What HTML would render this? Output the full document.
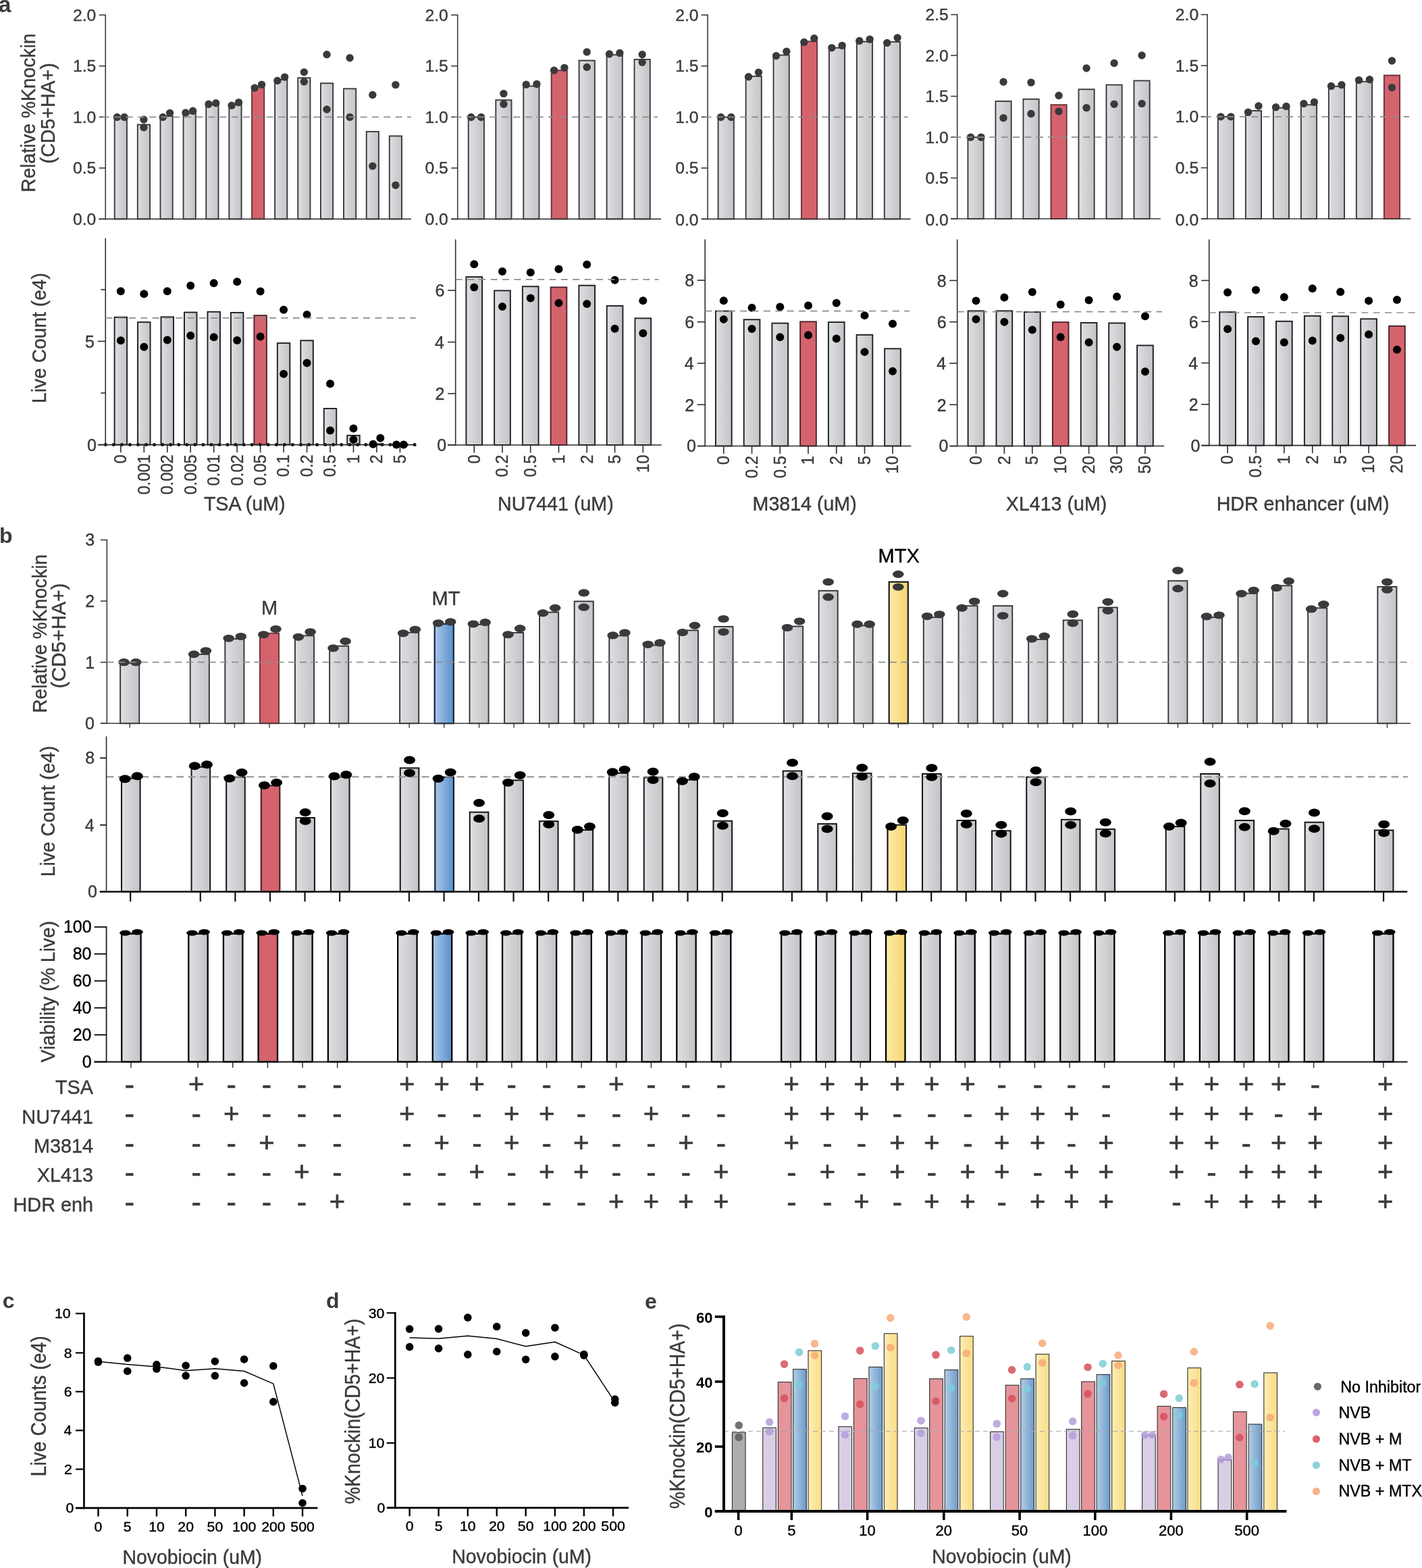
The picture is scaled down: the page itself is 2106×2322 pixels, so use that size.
<!DOCTYPE html>
<html lang="en">
<head>
<meta charset="utf-8">
<title>Figure</title>
<style>
html,body{margin:0;padding:0;background:#fff;}
body{width:2106px;height:2322px;overflow:hidden;}
svg{display:block;font-family:"Liberation Sans",sans-serif;}
</style>
</head>
<body>
<svg width="2106" height="2322" viewBox="0 0 2106 2322">
<defs>
<linearGradient id="gG" x1="0" y1="0" x2="1" y2="0"><stop offset="0" stop-color="#dedfe1"/><stop offset="1" stop-color="#c3c4c8"/></linearGradient>
<linearGradient id="gB" x1="0" y1="0" x2="1" y2="0"><stop offset="0" stop-color="#a9c9ea"/><stop offset="1" stop-color="#5a8ec8"/></linearGradient>
<linearGradient id="gY" x1="0" y1="0" x2="1" y2="0"><stop offset="0" stop-color="#fdeaa8"/><stop offset="1" stop-color="#f6d571"/></linearGradient>
<linearGradient id="eB" x1="0" y1="0" x2="1" y2="0"><stop offset="0" stop-color="#b4cde6"/><stop offset="1" stop-color="#6b9bcb"/></linearGradient>
<linearGradient id="eY" x1="0" y1="0" x2="1" y2="0"><stop offset="0" stop-color="#fdeeb5"/><stop offset="1" stop-color="#f8dc85"/></linearGradient>
<pattern id="pP" width="3" height="3" patternUnits="userSpaceOnUse"><rect width="3" height="3" fill="#ddd3e8"/><rect x="1" y="1" width="1.5" height="1.5" fill="#cfc2df"/></pattern>
</defs>
<rect width="2106" height="2322" fill="#ffffff"/>
<text x="-2.20" y="17.90" font-size="33.5" text-anchor="start" fill="#3b3b3d" font-weight="bold" >a</text>
<text x="-1.00" y="804.30" font-size="32" text-anchor="start" fill="#3b3b3d" font-weight="bold" >b</text>
<text x="3.80" y="1937.00" font-size="32" text-anchor="start" fill="#3b3b3d" font-weight="bold" >c</text>
<text x="483.00" y="1937.00" font-size="32" text-anchor="start" fill="#3b3b3d" font-weight="bold" >d</text>
<text x="955.00" y="1938.00" font-size="32" text-anchor="start" fill="#3b3b3d" font-weight="bold" >e</text>
<rect x="169.73" y="173.47" width="18.20" height="150.88" fill="url(#gG)" stroke="#3a3a3c" stroke-width="1.9"/>
<rect x="203.81" y="184.58" width="18.20" height="139.77" fill="url(#gG)" stroke="#3a3a3c" stroke-width="1.9"/>
<rect x="237.51" y="171.94" width="18.20" height="152.41" fill="url(#gG)" stroke="#3a3a3c" stroke-width="1.9"/>
<rect x="271.59" y="167.73" width="18.20" height="156.62" fill="url(#gG)" stroke="#3a3a3c" stroke-width="1.9"/>
<rect x="305.29" y="155.09" width="18.20" height="169.26" fill="url(#gG)" stroke="#3a3a3c" stroke-width="1.9"/>
<rect x="339.37" y="155.09" width="18.20" height="169.26" fill="url(#gG)" stroke="#3a3a3c" stroke-width="1.9"/>
<rect x="373.07" y="128.28" width="18.20" height="196.06" fill="#d5636e" stroke="#6a3339" stroke-width="1.9"/>
<rect x="407.15" y="117.94" width="18.20" height="206.40" fill="url(#gG)" stroke="#3a3a3c" stroke-width="1.9"/>
<rect x="441.23" y="115.26" width="18.20" height="209.08" fill="url(#gG)" stroke="#3a3a3c" stroke-width="1.9"/>
<rect x="474.93" y="123.31" width="18.20" height="201.04" fill="url(#gG)" stroke="#3a3a3c" stroke-width="1.9"/>
<rect x="509.01" y="131.35" width="18.20" height="193.00" fill="url(#gG)" stroke="#3a3a3c" stroke-width="1.9"/>
<rect x="542.71" y="194.91" width="18.20" height="129.43" fill="url(#gG)" stroke="#3a3a3c" stroke-width="1.9"/>
<rect x="576.79" y="201.42" width="18.20" height="122.92" fill="url(#gG)" stroke="#3a3a3c" stroke-width="1.9"/>
<line x1="156.24" y1="21.41" x2="156.24" y2="325.15" stroke="#3a3a3c" stroke-width="1.6" />
<line x1="146.28" y1="324.35" x2="608.87" y2="324.35" stroke="#3a3a3c" stroke-width="1.6" />
<line x1="146.74" y1="324.35" x2="156.24" y2="324.35" stroke="#3a3a3c" stroke-width="1.6" />
<text x="107.94" y="332.95" font-size="24.7" text-anchor="start" fill="#3b3b3d" stroke="#3b3b3d" stroke-width="0.4">0.0</text>
<line x1="146.74" y1="248.81" x2="156.24" y2="248.81" stroke="#3a3a3c" stroke-width="1.6" />
<text x="107.94" y="257.41" font-size="24.7" text-anchor="start" fill="#3b3b3d" stroke="#3b3b3d" stroke-width="0.4">0.5</text>
<line x1="146.74" y1="173.28" x2="156.24" y2="173.28" stroke="#3a3a3c" stroke-width="1.6" />
<text x="107.94" y="181.88" font-size="24.7" text-anchor="start" fill="#3b3b3d" stroke="#3b3b3d" stroke-width="0.4">1.0</text>
<line x1="146.74" y1="97.74" x2="156.24" y2="97.74" stroke="#3a3a3c" stroke-width="1.6" />
<text x="107.94" y="106.34" font-size="24.7" text-anchor="start" fill="#3b3b3d" stroke="#3b3b3d" stroke-width="0.4">1.5</text>
<line x1="146.74" y1="22.21" x2="156.24" y2="22.21" stroke="#3a3a3c" stroke-width="1.6" />
<text x="107.94" y="30.81" font-size="24.7" text-anchor="start" fill="#3b3b3d" stroke="#3b3b3d" stroke-width="0.4">2.0</text>
<circle cx="173.47" cy="173.47" r="5.7" fill="#3a3a3c"/>
<circle cx="184.19" cy="173.47" r="5.7" fill="#3a3a3c"/>
<circle cx="212.91" cy="176.92" r="5.7" fill="#3a3a3c"/>
<circle cx="212.91" cy="188.79" r="5.7" fill="#3a3a3c"/>
<circle cx="241.25" cy="173.47" r="5.7" fill="#3a3a3c"/>
<circle cx="251.59" cy="167.34" r="5.7" fill="#3a3a3c"/>
<circle cx="274.95" cy="166.96" r="5.7" fill="#3a3a3c"/>
<circle cx="285.67" cy="164.28" r="5.7" fill="#3a3a3c"/>
<circle cx="309.03" cy="154.32" r="5.7" fill="#3a3a3c"/>
<circle cx="319.75" cy="152.79" r="5.7" fill="#3a3a3c"/>
<circle cx="343.11" cy="156.24" r="5.7" fill="#3a3a3c"/>
<circle cx="353.45" cy="151.64" r="5.7" fill="#3a3a3c"/>
<circle cx="377.19" cy="130.20" r="5.7" fill="#3a3a3c"/>
<circle cx="387.53" cy="125.22" r="5.7" fill="#3a3a3c"/>
<circle cx="410.89" cy="119.48" r="5.7" fill="#3a3a3c"/>
<circle cx="421.61" cy="114.12" r="5.7" fill="#3a3a3c"/>
<circle cx="450.33" cy="106.84" r="5.7" fill="#3a3a3c"/>
<circle cx="450.33" cy="121.01" r="5.7" fill="#3a3a3c"/>
<circle cx="484.03" cy="80.80" r="5.7" fill="#3a3a3c"/>
<circle cx="484.03" cy="161.98" r="5.7" fill="#3a3a3c"/>
<circle cx="518.11" cy="85.78" r="5.7" fill="#3a3a3c"/>
<circle cx="518.11" cy="173.47" r="5.7" fill="#3a3a3c"/>
<circle cx="551.81" cy="140.54" r="5.7" fill="#3a3a3c"/>
<circle cx="551.81" cy="245.85" r="5.7" fill="#3a3a3c"/>
<circle cx="585.89" cy="125.60" r="5.7" fill="#3a3a3c"/>
<circle cx="585.89" cy="274.18" r="5.7" fill="#3a3a3c"/>
<line x1="151.84" y1="173.28" x2="608.87" y2="173.28" stroke="#8d8d8f" stroke-width="1.7" stroke-dasharray="10 7.35"/>
<rect x="693.71" y="173.47" width="23.20" height="150.88" fill="url(#gG)" stroke="#3a3a3c" stroke-width="1.9"/>
<rect x="734.30" y="148.20" width="23.20" height="176.15" fill="url(#gG)" stroke="#3a3a3c" stroke-width="1.9"/>
<rect x="775.27" y="127.52" width="23.20" height="196.83" fill="url(#gG)" stroke="#3a3a3c" stroke-width="1.9"/>
<rect x="816.63" y="104.16" width="23.20" height="220.19" fill="#d5636e" stroke="#6a3339" stroke-width="1.9"/>
<rect x="857.60" y="89.61" width="23.20" height="234.74" fill="url(#gG)" stroke="#3a3a3c" stroke-width="1.9"/>
<rect x="898.58" y="81.18" width="23.20" height="243.16" fill="url(#gG)" stroke="#3a3a3c" stroke-width="1.9"/>
<rect x="939.55" y="88.08" width="23.20" height="236.27" fill="url(#gG)" stroke="#3a3a3c" stroke-width="1.9"/>
<line x1="677.74" y1="21.41" x2="677.74" y2="325.15" stroke="#3a3a3c" stroke-width="1.6" />
<line x1="668.16" y1="324.35" x2="979.11" y2="324.35" stroke="#3a3a3c" stroke-width="1.6" />
<line x1="668.24" y1="324.35" x2="677.74" y2="324.35" stroke="#3a3a3c" stroke-width="1.6" />
<text x="629.44" y="332.95" font-size="24.7" text-anchor="start" fill="#3b3b3d" stroke="#3b3b3d" stroke-width="0.4">0.0</text>
<line x1="668.24" y1="248.81" x2="677.74" y2="248.81" stroke="#3a3a3c" stroke-width="1.6" />
<text x="629.44" y="257.41" font-size="24.7" text-anchor="start" fill="#3b3b3d" stroke="#3b3b3d" stroke-width="0.4">0.5</text>
<line x1="668.24" y1="173.28" x2="677.74" y2="173.28" stroke="#3a3a3c" stroke-width="1.6" />
<text x="629.44" y="181.88" font-size="24.7" text-anchor="start" fill="#3b3b3d" stroke="#3b3b3d" stroke-width="0.4">1.0</text>
<line x1="668.24" y1="97.74" x2="677.74" y2="97.74" stroke="#3a3a3c" stroke-width="1.6" />
<text x="629.44" y="106.34" font-size="24.7" text-anchor="start" fill="#3b3b3d" stroke="#3b3b3d" stroke-width="0.4">1.5</text>
<line x1="668.24" y1="22.21" x2="677.74" y2="22.21" stroke="#3a3a3c" stroke-width="1.6" />
<text x="629.44" y="30.81" font-size="24.7" text-anchor="start" fill="#3b3b3d" stroke="#3b3b3d" stroke-width="0.4">2.0</text>
<circle cx="697.65" cy="173.47" r="5.7" fill="#3a3a3c"/>
<circle cx="712.58" cy="173.47" r="5.7" fill="#3a3a3c"/>
<circle cx="745.90" cy="138.62" r="5.7" fill="#3a3a3c"/>
<circle cx="745.90" cy="154.32" r="5.7" fill="#3a3a3c"/>
<circle cx="779.21" cy="125.22" r="5.7" fill="#3a3a3c"/>
<circle cx="794.91" cy="124.45" r="5.7" fill="#3a3a3c"/>
<circle cx="820.57" cy="104.16" r="5.7" fill="#3a3a3c"/>
<circle cx="835.89" cy="100.33" r="5.7" fill="#3a3a3c"/>
<circle cx="869.20" cy="76.97" r="5.7" fill="#3a3a3c"/>
<circle cx="869.20" cy="99.56" r="5.7" fill="#3a3a3c"/>
<circle cx="902.52" cy="80.03" r="5.7" fill="#3a3a3c"/>
<circle cx="917.84" cy="78.50" r="5.7" fill="#3a3a3c"/>
<circle cx="951.15" cy="80.80" r="5.7" fill="#3a3a3c"/>
<circle cx="951.15" cy="92.29" r="5.7" fill="#3a3a3c"/>
<line x1="673.34" y1="173.28" x2="974.13" y2="173.28" stroke="#8d8d8f" stroke-width="1.7" stroke-dasharray="10 7.35"/>
<rect x="1063.62" y="173.47" width="23.20" height="150.88" fill="url(#gG)" stroke="#3a3a3c" stroke-width="1.9"/>
<rect x="1104.60" y="112.97" width="23.20" height="211.38" fill="url(#gG)" stroke="#3a3a3c" stroke-width="1.9"/>
<rect x="1145.57" y="81.57" width="23.20" height="242.78" fill="url(#gG)" stroke="#3a3a3c" stroke-width="1.9"/>
<rect x="1186.93" y="61.27" width="23.20" height="263.08" fill="#d5636e" stroke="#6a3339" stroke-width="1.9"/>
<rect x="1227.90" y="70.84" width="23.20" height="253.50" fill="url(#gG)" stroke="#3a3a3c" stroke-width="1.9"/>
<rect x="1268.88" y="61.65" width="23.20" height="262.69" fill="url(#gG)" stroke="#3a3a3c" stroke-width="1.9"/>
<rect x="1309.85" y="62.04" width="23.20" height="262.31" fill="url(#gG)" stroke="#3a3a3c" stroke-width="1.9"/>
<line x1="1048.04" y1="21.41" x2="1048.04" y2="325.15" stroke="#3a3a3c" stroke-width="1.6" />
<line x1="1039.61" y1="324.35" x2="1348.64" y2="324.35" stroke="#3a3a3c" stroke-width="1.6" />
<line x1="1038.54" y1="324.35" x2="1048.04" y2="324.35" stroke="#3a3a3c" stroke-width="1.6" />
<text x="1000.24" y="334.25" font-size="24.7" text-anchor="start" fill="#3b3b3d" stroke="#3b3b3d" stroke-width="0.4">0.0</text>
<line x1="1038.54" y1="248.81" x2="1048.04" y2="248.81" stroke="#3a3a3c" stroke-width="1.6" />
<text x="1000.24" y="257.41" font-size="24.7" text-anchor="start" fill="#3b3b3d" stroke="#3b3b3d" stroke-width="0.4">0.5</text>
<line x1="1038.54" y1="173.28" x2="1048.04" y2="173.28" stroke="#3a3a3c" stroke-width="1.6" />
<text x="1000.24" y="181.88" font-size="24.7" text-anchor="start" fill="#3b3b3d" stroke="#3b3b3d" stroke-width="0.4">1.0</text>
<line x1="1038.54" y1="97.74" x2="1048.04" y2="97.74" stroke="#3a3a3c" stroke-width="1.6" />
<text x="1000.24" y="106.34" font-size="24.7" text-anchor="start" fill="#3b3b3d" stroke="#3b3b3d" stroke-width="0.4">1.5</text>
<line x1="1038.54" y1="22.21" x2="1048.04" y2="22.21" stroke="#3a3a3c" stroke-width="1.6" />
<text x="1000.24" y="30.81" font-size="24.7" text-anchor="start" fill="#3b3b3d" stroke="#3b3b3d" stroke-width="0.4">2.0</text>
<circle cx="1067.57" cy="173.47" r="5.7" fill="#3a3a3c"/>
<circle cx="1082.88" cy="173.47" r="5.7" fill="#3a3a3c"/>
<circle cx="1108.54" cy="113.73" r="5.7" fill="#3a3a3c"/>
<circle cx="1123.47" cy="107.22" r="5.7" fill="#3a3a3c"/>
<circle cx="1149.51" cy="82.71" r="5.7" fill="#3a3a3c"/>
<circle cx="1164.83" cy="76.20" r="5.7" fill="#3a3a3c"/>
<circle cx="1190.87" cy="62.42" r="5.7" fill="#3a3a3c"/>
<circle cx="1205.81" cy="56.67" r="5.7" fill="#3a3a3c"/>
<circle cx="1231.84" cy="70.84" r="5.7" fill="#3a3a3c"/>
<circle cx="1247.16" cy="67.40" r="5.7" fill="#3a3a3c"/>
<circle cx="1272.82" cy="60.50" r="5.7" fill="#3a3a3c"/>
<circle cx="1288.14" cy="58.21" r="5.7" fill="#3a3a3c"/>
<circle cx="1313.79" cy="63.57" r="5.7" fill="#3a3a3c"/>
<circle cx="1329.11" cy="55.91" r="5.7" fill="#3a3a3c"/>
<line x1="1043.64" y1="173.28" x2="1344.81" y2="173.28" stroke="#8d8d8f" stroke-width="1.7" stroke-dasharray="10 7.35"/>
<rect x="1433.46" y="203.26" width="23.20" height="120.81" fill="url(#gG)" stroke="#3a3a3c" stroke-width="1.9"/>
<rect x="1474.47" y="149.91" width="23.20" height="174.16" fill="url(#gG)" stroke="#3a3a3c" stroke-width="1.9"/>
<rect x="1515.47" y="146.83" width="23.20" height="177.25" fill="url(#gG)" stroke="#3a3a3c" stroke-width="1.9"/>
<rect x="1556.48" y="155.20" width="23.20" height="168.87" fill="#d5636e" stroke="#6a3339" stroke-width="1.9"/>
<rect x="1597.48" y="132.28" width="23.20" height="191.80" fill="url(#gG)" stroke="#3a3a3c" stroke-width="1.9"/>
<rect x="1638.49" y="125.66" width="23.20" height="198.41" fill="url(#gG)" stroke="#3a3a3c" stroke-width="1.9"/>
<rect x="1679.49" y="119.49" width="23.20" height="204.59" fill="url(#gG)" stroke="#3a3a3c" stroke-width="1.9"/>
<line x1="1417.72" y1="20.80" x2="1417.72" y2="324.87" stroke="#3a3a3c" stroke-width="1.6" />
<line x1="1408.02" y1="324.07" x2="1718.87" y2="324.07" stroke="#3a3a3c" stroke-width="1.6" />
<line x1="1408.22" y1="324.07" x2="1417.72" y2="324.07" stroke="#3a3a3c" stroke-width="1.6" />
<text x="1370.42" y="333.97" font-size="24.7" text-anchor="start" fill="#3b3b3d" stroke="#3b3b3d" stroke-width="0.4">0.0</text>
<line x1="1408.22" y1="263.58" x2="1417.72" y2="263.58" stroke="#3a3a3c" stroke-width="1.6" />
<text x="1370.42" y="272.18" font-size="24.7" text-anchor="start" fill="#3b3b3d" stroke="#3b3b3d" stroke-width="0.4">0.5</text>
<line x1="1408.22" y1="203.09" x2="1417.72" y2="203.09" stroke="#3a3a3c" stroke-width="1.6" />
<text x="1370.42" y="211.69" font-size="24.7" text-anchor="start" fill="#3b3b3d" stroke="#3b3b3d" stroke-width="0.4">1.0</text>
<line x1="1408.22" y1="142.59" x2="1417.72" y2="142.59" stroke="#3a3a3c" stroke-width="1.6" />
<text x="1370.42" y="151.19" font-size="24.7" text-anchor="start" fill="#3b3b3d" stroke="#3b3b3d" stroke-width="0.4">1.5</text>
<line x1="1408.22" y1="82.10" x2="1417.72" y2="82.10" stroke="#3a3a3c" stroke-width="1.6" />
<text x="1370.42" y="90.70" font-size="24.7" text-anchor="start" fill="#3b3b3d" stroke="#3b3b3d" stroke-width="0.4">2.0</text>
<line x1="1408.22" y1="21.60" x2="1417.72" y2="21.60" stroke="#3a3a3c" stroke-width="1.6" />
<text x="1370.42" y="30.20" font-size="24.7" text-anchor="start" fill="#3b3b3d" stroke="#3b3b3d" stroke-width="0.4">2.5</text>
<circle cx="1437.57" cy="203.26" r="5.7" fill="#3a3a3c"/>
<circle cx="1453.00" cy="203.26" r="5.7" fill="#3a3a3c"/>
<circle cx="1486.07" cy="121.25" r="5.7" fill="#3a3a3c"/>
<circle cx="1486.07" cy="174.60" r="5.7" fill="#3a3a3c"/>
<circle cx="1527.07" cy="122.13" r="5.7" fill="#3a3a3c"/>
<circle cx="1527.07" cy="168.43" r="5.7" fill="#3a3a3c"/>
<circle cx="1568.08" cy="141.53" r="5.7" fill="#3a3a3c"/>
<circle cx="1568.08" cy="164.90" r="5.7" fill="#3a3a3c"/>
<circle cx="1609.08" cy="100.97" r="5.7" fill="#3a3a3c"/>
<circle cx="1609.08" cy="159.61" r="5.7" fill="#3a3a3c"/>
<circle cx="1650.09" cy="93.47" r="5.7" fill="#3a3a3c"/>
<circle cx="1650.09" cy="154.32" r="5.7" fill="#3a3a3c"/>
<circle cx="1691.09" cy="82.01" r="5.7" fill="#3a3a3c"/>
<circle cx="1691.09" cy="153.44" r="5.7" fill="#3a3a3c"/>
<line x1="1413.32" y1="203.09" x2="1714.46" y2="203.09" stroke="#8d8d8f" stroke-width="1.7" stroke-dasharray="10 7.35"/>
<rect x="1803.83" y="172.84" width="23.20" height="151.23" fill="url(#gG)" stroke="#3a3a3c" stroke-width="1.9"/>
<rect x="1844.84" y="164.02" width="23.20" height="160.05" fill="url(#gG)" stroke="#3a3a3c" stroke-width="1.9"/>
<rect x="1885.84" y="159.61" width="23.20" height="164.46" fill="url(#gG)" stroke="#3a3a3c" stroke-width="1.9"/>
<rect x="1926.85" y="155.20" width="23.20" height="168.87" fill="url(#gG)" stroke="#3a3a3c" stroke-width="1.9"/>
<rect x="1967.85" y="127.87" width="23.20" height="196.21" fill="url(#gG)" stroke="#3a3a3c" stroke-width="1.9"/>
<rect x="2008.86" y="120.81" width="23.20" height="203.26" fill="url(#gG)" stroke="#3a3a3c" stroke-width="1.9"/>
<rect x="2049.86" y="111.55" width="23.20" height="212.52" fill="#d5636e" stroke="#6a3339" stroke-width="1.9"/>
<line x1="1788.10" y1="20.80" x2="1788.10" y2="324.87" stroke="#3a3a3c" stroke-width="1.6" />
<line x1="1779.72" y1="324.07" x2="2089.24" y2="324.07" stroke="#3a3a3c" stroke-width="1.6" />
<line x1="1778.60" y1="324.07" x2="1788.10" y2="324.07" stroke="#3a3a3c" stroke-width="1.6" />
<text x="1740.80" y="333.97" font-size="24.7" text-anchor="start" fill="#3b3b3d" stroke="#3b3b3d" stroke-width="0.4">0.0</text>
<line x1="1778.60" y1="248.46" x2="1788.10" y2="248.46" stroke="#3a3a3c" stroke-width="1.6" />
<text x="1740.80" y="257.06" font-size="24.7" text-anchor="start" fill="#3b3b3d" stroke="#3b3b3d" stroke-width="0.4">0.5</text>
<line x1="1778.60" y1="172.84" x2="1788.10" y2="172.84" stroke="#3a3a3c" stroke-width="1.6" />
<text x="1740.80" y="181.44" font-size="24.7" text-anchor="start" fill="#3b3b3d" stroke="#3b3b3d" stroke-width="0.4">1.0</text>
<line x1="1778.60" y1="97.22" x2="1788.10" y2="97.22" stroke="#3a3a3c" stroke-width="1.6" />
<text x="1740.80" y="105.82" font-size="24.7" text-anchor="start" fill="#3b3b3d" stroke="#3b3b3d" stroke-width="0.4">1.5</text>
<line x1="1778.60" y1="21.60" x2="1788.10" y2="21.60" stroke="#3a3a3c" stroke-width="1.6" />
<text x="1740.80" y="30.20" font-size="24.7" text-anchor="start" fill="#3b3b3d" stroke="#3b3b3d" stroke-width="0.4">2.0</text>
<circle cx="1807.94" cy="172.84" r="5.7" fill="#3a3a3c"/>
<circle cx="1822.93" cy="172.84" r="5.7" fill="#3a3a3c"/>
<circle cx="1848.50" cy="166.23" r="5.7" fill="#3a3a3c"/>
<circle cx="1863.93" cy="156.97" r="5.7" fill="#3a3a3c"/>
<circle cx="1889.51" cy="158.73" r="5.7" fill="#3a3a3c"/>
<circle cx="1904.94" cy="157.41" r="5.7" fill="#3a3a3c"/>
<circle cx="1930.95" cy="153.44" r="5.7" fill="#3a3a3c"/>
<circle cx="1946.38" cy="151.23" r="5.7" fill="#3a3a3c"/>
<circle cx="1971.52" cy="127.43" r="5.7" fill="#3a3a3c"/>
<circle cx="1986.95" cy="125.66" r="5.7" fill="#3a3a3c"/>
<circle cx="2012.52" cy="118.61" r="5.7" fill="#3a3a3c"/>
<circle cx="2028.40" cy="117.72" r="5.7" fill="#3a3a3c"/>
<circle cx="2061.46" cy="89.95" r="5.7" fill="#3a3a3c"/>
<circle cx="2061.46" cy="129.63" r="5.7" fill="#3a3a3c"/>
<line x1="1783.70" y1="172.84" x2="2087.04" y2="172.84" stroke="#8d8d8f" stroke-width="1.7" stroke-dasharray="10 7.35"/>
<text x="0" y="0" transform="translate(52.30,167.20) rotate(-90) scale(0.94,1.0)" font-size="30" text-anchor="middle" fill="#3b3b3d" stroke="#3b3b3d" stroke-width="0.4">Relative %Knockin</text>
<text x="0" y="0" transform="translate(81.00,167.80) rotate(-90) scale(0.985,1.0)" font-size="29" text-anchor="middle" fill="#3b3b3d" stroke="#3b3b3d" stroke-width="0.4">(CD5+HA+)</text>
<rect x="169.58" y="469.82" width="18.50" height="188.79" fill="url(#gG)" stroke="#1e1e20" stroke-width="1.9"/>
<rect x="204.05" y="477.09" width="18.50" height="181.51" fill="url(#gG)" stroke="#1e1e20" stroke-width="1.9"/>
<rect x="238.51" y="469.43" width="18.50" height="189.17" fill="url(#gG)" stroke="#1e1e20" stroke-width="1.9"/>
<rect x="272.97" y="462.54" width="18.50" height="196.06" fill="url(#gG)" stroke="#1e1e20" stroke-width="1.9"/>
<rect x="307.44" y="461.77" width="18.50" height="196.83" fill="url(#gG)" stroke="#1e1e20" stroke-width="1.9"/>
<rect x="341.90" y="462.92" width="18.50" height="195.68" fill="url(#gG)" stroke="#1e1e20" stroke-width="1.9"/>
<rect x="376.37" y="467.13" width="18.50" height="191.47" fill="#d5636e" stroke="#4a2226" stroke-width="1.9"/>
<rect x="410.83" y="508.11" width="18.50" height="150.49" fill="url(#gG)" stroke="#1e1e20" stroke-width="1.9"/>
<rect x="445.30" y="504.28" width="18.50" height="154.32" fill="url(#gG)" stroke="#1e1e20" stroke-width="1.9"/>
<rect x="479.76" y="604.99" width="18.50" height="53.61" fill="url(#gG)" stroke="#1e1e20" stroke-width="1.9"/>
<rect x="514.22" y="644.82" width="18.50" height="13.79" fill="url(#gG)" stroke="#1e1e20" stroke-width="1.9"/>
<rect x="548.69" y="657.45" width="18.50" height="1.15" fill="url(#gG)" stroke="#1e1e20" stroke-width="1.9"/>
<rect x="583.15" y="658.60" width="18.50" height="0.50" fill="url(#gG)" stroke="#1e1e20" stroke-width="1.9"/>
<line x1="156.24" y1="352.64" x2="156.24" y2="659.40" stroke="#2c2c2e" stroke-width="1.6" />
<line x1="146.28" y1="658.60" x2="615.76" y2="658.60" stroke="#2c2c2e" stroke-width="1.6" />
<line x1="156.24" y1="658.60" x2="615.76" y2="658.60" stroke="#1a1a1a" stroke-width="5.0" stroke-linecap="round" stroke-dasharray="0 12.05"/>
<line x1="144.74" y1="658.60" x2="156.24" y2="658.60" stroke="#2c2c2e" stroke-width="1.6" />
<text x="128.94" y="667.53" font-size="25" text-anchor="start" fill="#3b3b3d" stroke="#3b3b3d" stroke-width="0.4">0</text>
<line x1="149.24" y1="582.02" x2="156.24" y2="582.02" stroke="#2c2c2e" stroke-width="1.6" />
<line x1="144.74" y1="505.43" x2="156.24" y2="505.43" stroke="#2c2c2e" stroke-width="1.6" />
<text x="125.94" y="514.85" font-size="25" text-anchor="start" fill="#3b3b3d" stroke="#3b3b3d" stroke-width="0.4">5</text>
<line x1="149.24" y1="428.84" x2="156.24" y2="428.84" stroke="#2c2c2e" stroke-width="1.6" />
<line x1="178.83" y1="658.60" x2="178.83" y2="670.10" stroke="#2c2c2e" stroke-width="1.6" />
<text x="0" y="0" transform="translate(187.23,673.20) rotate(-90) scale(0.95,1.0)" font-size="25" text-anchor="end" fill="#3b3b3d" stroke="#3b3b3d" stroke-width="0.4">0</text>
<line x1="213.30" y1="658.60" x2="213.30" y2="670.10" stroke="#2c2c2e" stroke-width="1.6" />
<text x="0" y="0" transform="translate(221.70,673.20) rotate(-90) scale(0.95,1.0)" font-size="25" text-anchor="end" fill="#3b3b3d" stroke="#3b3b3d" stroke-width="0.4">0.001</text>
<line x1="247.76" y1="658.60" x2="247.76" y2="670.10" stroke="#2c2c2e" stroke-width="1.6" />
<text x="0" y="0" transform="translate(256.16,673.20) rotate(-90) scale(0.95,1.0)" font-size="25" text-anchor="end" fill="#3b3b3d" stroke="#3b3b3d" stroke-width="0.4">0.002</text>
<line x1="282.22" y1="658.60" x2="282.22" y2="670.10" stroke="#2c2c2e" stroke-width="1.6" />
<text x="0" y="0" transform="translate(290.62,673.20) rotate(-90) scale(0.95,1.0)" font-size="25" text-anchor="end" fill="#3b3b3d" stroke="#3b3b3d" stroke-width="0.4">0.005</text>
<line x1="316.69" y1="658.60" x2="316.69" y2="670.10" stroke="#2c2c2e" stroke-width="1.6" />
<text x="0" y="0" transform="translate(325.09,673.20) rotate(-90) scale(0.95,1.0)" font-size="25" text-anchor="end" fill="#3b3b3d" stroke="#3b3b3d" stroke-width="0.4">0.01</text>
<line x1="351.15" y1="658.60" x2="351.15" y2="670.10" stroke="#2c2c2e" stroke-width="1.6" />
<text x="0" y="0" transform="translate(359.55,673.20) rotate(-90) scale(0.95,1.0)" font-size="25" text-anchor="end" fill="#3b3b3d" stroke="#3b3b3d" stroke-width="0.4">0.02</text>
<line x1="385.62" y1="658.60" x2="385.62" y2="670.10" stroke="#2c2c2e" stroke-width="1.6" />
<text x="0" y="0" transform="translate(394.02,673.20) rotate(-90) scale(0.95,1.0)" font-size="25" text-anchor="end" fill="#3b3b3d" stroke="#3b3b3d" stroke-width="0.4">0.05</text>
<line x1="420.08" y1="658.60" x2="420.08" y2="670.10" stroke="#2c2c2e" stroke-width="1.6" />
<text x="0" y="0" transform="translate(428.48,673.20) rotate(-90) scale(0.95,1.0)" font-size="25" text-anchor="end" fill="#3b3b3d" stroke="#3b3b3d" stroke-width="0.4">0.1</text>
<line x1="454.55" y1="658.60" x2="454.55" y2="670.10" stroke="#2c2c2e" stroke-width="1.6" />
<text x="0" y="0" transform="translate(462.95,673.20) rotate(-90) scale(0.95,1.0)" font-size="25" text-anchor="end" fill="#3b3b3d" stroke="#3b3b3d" stroke-width="0.4">0.2</text>
<line x1="489.01" y1="658.60" x2="489.01" y2="670.10" stroke="#2c2c2e" stroke-width="1.6" />
<text x="0" y="0" transform="translate(497.41,673.20) rotate(-90) scale(0.95,1.0)" font-size="25" text-anchor="end" fill="#3b3b3d" stroke="#3b3b3d" stroke-width="0.4">0.5</text>
<line x1="523.47" y1="658.60" x2="523.47" y2="670.10" stroke="#2c2c2e" stroke-width="1.6" />
<text x="0" y="0" transform="translate(531.87,673.20) rotate(-90) scale(0.95,1.0)" font-size="25" text-anchor="end" fill="#3b3b3d" stroke="#3b3b3d" stroke-width="0.4">1</text>
<line x1="557.94" y1="658.60" x2="557.94" y2="670.10" stroke="#2c2c2e" stroke-width="1.6" />
<text x="0" y="0" transform="translate(566.34,673.20) rotate(-90) scale(0.95,1.0)" font-size="25" text-anchor="end" fill="#3b3b3d" stroke="#3b3b3d" stroke-width="0.4">2</text>
<line x1="592.40" y1="658.60" x2="592.40" y2="670.10" stroke="#2c2c2e" stroke-width="1.6" />
<text x="0" y="0" transform="translate(600.80,673.20) rotate(-90) scale(0.95,1.0)" font-size="25" text-anchor="end" fill="#3b3b3d" stroke="#3b3b3d" stroke-width="0.4">5</text>
<circle cx="178.83" cy="431.14" r="6.0" fill="#000000"/>
<circle cx="178.83" cy="504.28" r="6.0" fill="#000000"/>
<circle cx="213.30" cy="435.35" r="6.0" fill="#000000"/>
<circle cx="213.30" cy="513.85" r="6.0" fill="#000000"/>
<circle cx="247.76" cy="431.14" r="6.0" fill="#000000"/>
<circle cx="247.76" cy="503.51" r="6.0" fill="#000000"/>
<circle cx="282.22" cy="423.10" r="6.0" fill="#000000"/>
<circle cx="282.22" cy="497.00" r="6.0" fill="#000000"/>
<circle cx="316.69" cy="419.27" r="6.0" fill="#000000"/>
<circle cx="316.69" cy="499.30" r="6.0" fill="#000000"/>
<circle cx="351.15" cy="417.35" r="6.0" fill="#000000"/>
<circle cx="351.15" cy="503.90" r="6.0" fill="#000000"/>
<circle cx="385.62" cy="431.52" r="6.0" fill="#000000"/>
<circle cx="385.62" cy="498.54" r="6.0" fill="#000000"/>
<circle cx="420.08" cy="458.71" r="6.0" fill="#000000"/>
<circle cx="420.08" cy="553.68" r="6.0" fill="#000000"/>
<circle cx="454.55" cy="465.99" r="6.0" fill="#000000"/>
<circle cx="454.55" cy="537.60" r="6.0" fill="#000000"/>
<circle cx="489.01" cy="568.23" r="6.0" fill="#000000"/>
<circle cx="489.01" cy="637.54" r="6.0" fill="#000000"/>
<circle cx="523.47" cy="634.48" r="6.0" fill="#000000"/>
<circle cx="523.47" cy="650.94" r="6.0" fill="#000000"/>
<circle cx="552.58" cy="657.84" r="6.0" fill="#000000"/>
<circle cx="563.30" cy="648.65" r="6.0" fill="#000000"/>
<circle cx="587.04" cy="658.60" r="6.0" fill="#000000"/>
<circle cx="597.76" cy="658.60" r="6.0" fill="#000000"/>
<line x1="156.24" y1="470.96" x2="615.76" y2="470.96" stroke="#8d8d8f" stroke-width="1.7" stroke-dasharray="10 7.35"/>
<text x="362.26" y="755.50" font-size="28.6" text-anchor="middle" fill="#3b3b3d" stroke="#3b3b3d" stroke-width="0.4">TSA (uM)</text>
<rect x="690.39" y="410.08" width="23.70" height="248.91" fill="url(#gG)" stroke="#1e1e20" stroke-width="1.9"/>
<rect x="732.13" y="430.37" width="23.70" height="228.61" fill="url(#gG)" stroke="#1e1e20" stroke-width="1.9"/>
<rect x="773.87" y="424.25" width="23.70" height="234.74" fill="url(#gG)" stroke="#1e1e20" stroke-width="1.9"/>
<rect x="815.61" y="425.39" width="23.70" height="233.59" fill="#d5636e" stroke="#4a2226" stroke-width="1.9"/>
<rect x="857.35" y="422.71" width="23.70" height="236.27" fill="url(#gG)" stroke="#1e1e20" stroke-width="1.9"/>
<rect x="898.71" y="452.97" width="23.70" height="206.02" fill="url(#gG)" stroke="#1e1e20" stroke-width="1.9"/>
<rect x="940.45" y="471.35" width="23.70" height="187.64" fill="url(#gG)" stroke="#1e1e20" stroke-width="1.9"/>
<line x1="674.67" y1="354.55" x2="674.67" y2="659.79" stroke="#2c2c2e" stroke-width="1.6" />
<line x1="663.18" y1="658.99" x2="979.87" y2="658.99" stroke="#2c2c2e" stroke-width="1.6" />
<line x1="663.17" y1="658.99" x2="674.67" y2="658.99" stroke="#2c2c2e" stroke-width="1.6" />
<text x="647.37" y="667.91" font-size="25" text-anchor="start" fill="#3b3b3d" stroke="#3b3b3d" stroke-width="0.4">0</text>
<line x1="663.17" y1="582.78" x2="674.67" y2="582.78" stroke="#2c2c2e" stroke-width="1.6" />
<text x="644.62" y="592.21" font-size="25" text-anchor="start" fill="#3b3b3d" stroke="#3b3b3d" stroke-width="0.4">2</text>
<line x1="663.17" y1="506.58" x2="674.67" y2="506.58" stroke="#2c2c2e" stroke-width="1.6" />
<text x="644.12" y="516.00" font-size="25" text-anchor="start" fill="#3b3b3d" stroke="#3b3b3d" stroke-width="0.4">4</text>
<line x1="663.17" y1="429.99" x2="674.67" y2="429.99" stroke="#2c2c2e" stroke-width="1.6" />
<text x="644.62" y="439.42" font-size="25" text-anchor="start" fill="#3b3b3d" stroke="#3b3b3d" stroke-width="0.4">6</text>
<line x1="702.24" y1="658.99" x2="702.24" y2="670.49" stroke="#2c2c2e" stroke-width="1.6" />
<text x="0" y="0" transform="translate(710.64,673.59) rotate(-90) scale(0.95,1.0)" font-size="25" text-anchor="end" fill="#3b3b3d" stroke="#3b3b3d" stroke-width="0.4">0</text>
<line x1="743.98" y1="658.99" x2="743.98" y2="670.49" stroke="#2c2c2e" stroke-width="1.6" />
<text x="0" y="0" transform="translate(752.38,673.59) rotate(-90) scale(0.95,1.0)" font-size="25" text-anchor="end" fill="#3b3b3d" stroke="#3b3b3d" stroke-width="0.4">0.2</text>
<line x1="785.72" y1="658.99" x2="785.72" y2="670.49" stroke="#2c2c2e" stroke-width="1.6" />
<text x="0" y="0" transform="translate(794.12,673.59) rotate(-90) scale(0.95,1.0)" font-size="25" text-anchor="end" fill="#3b3b3d" stroke="#3b3b3d" stroke-width="0.4">0.5</text>
<line x1="827.46" y1="658.99" x2="827.46" y2="670.49" stroke="#2c2c2e" stroke-width="1.6" />
<text x="0" y="0" transform="translate(835.86,673.59) rotate(-90) scale(0.95,1.0)" font-size="25" text-anchor="end" fill="#3b3b3d" stroke="#3b3b3d" stroke-width="0.4">1</text>
<line x1="869.20" y1="658.99" x2="869.20" y2="670.49" stroke="#2c2c2e" stroke-width="1.6" />
<text x="0" y="0" transform="translate(877.60,673.59) rotate(-90) scale(0.95,1.0)" font-size="25" text-anchor="end" fill="#3b3b3d" stroke="#3b3b3d" stroke-width="0.4">2</text>
<line x1="910.56" y1="658.99" x2="910.56" y2="670.49" stroke="#2c2c2e" stroke-width="1.6" />
<text x="0" y="0" transform="translate(918.96,673.59) rotate(-90) scale(0.95,1.0)" font-size="25" text-anchor="end" fill="#3b3b3d" stroke="#3b3b3d" stroke-width="0.4">5</text>
<line x1="952.30" y1="658.99" x2="952.30" y2="670.49" stroke="#2c2c2e" stroke-width="1.6" />
<text x="0" y="0" transform="translate(960.70,673.59) rotate(-90) scale(0.95,1.0)" font-size="25" text-anchor="end" fill="#3b3b3d" stroke="#3b3b3d" stroke-width="0.4">10</text>
<circle cx="702.24" cy="391.31" r="6.0" fill="#000000"/>
<circle cx="702.24" cy="425.39" r="6.0" fill="#000000"/>
<circle cx="743.98" cy="402.04" r="6.0" fill="#000000"/>
<circle cx="743.98" cy="454.12" r="6.0" fill="#000000"/>
<circle cx="785.72" cy="403.57" r="6.0" fill="#000000"/>
<circle cx="785.72" cy="441.48" r="6.0" fill="#000000"/>
<circle cx="827.46" cy="398.59" r="6.0" fill="#000000"/>
<circle cx="827.46" cy="448.75" r="6.0" fill="#000000"/>
<circle cx="869.20" cy="391.70" r="6.0" fill="#000000"/>
<circle cx="869.20" cy="449.90" r="6.0" fill="#000000"/>
<circle cx="910.56" cy="414.67" r="6.0" fill="#000000"/>
<circle cx="910.56" cy="486.66" r="6.0" fill="#000000"/>
<circle cx="952.30" cy="445.31" r="6.0" fill="#000000"/>
<circle cx="952.30" cy="493.56" r="6.0" fill="#000000"/>
<line x1="674.67" y1="413.91" x2="975.28" y2="413.91" stroke="#8d8d8f" stroke-width="1.7" stroke-dasharray="10 7.35"/>
<text x="822.87" y="755.50" font-size="28.6" text-anchor="middle" fill="#3b3b3d" stroke="#3b3b3d" stroke-width="0.4">NU7441 (uM)</text>
<rect x="1059.93" y="460.62" width="23.70" height="199.89" fill="url(#gG)" stroke="#1e1e20" stroke-width="1.9"/>
<rect x="1101.67" y="473.26" width="23.70" height="187.26" fill="url(#gG)" stroke="#1e1e20" stroke-width="1.9"/>
<rect x="1143.41" y="478.62" width="23.70" height="181.89" fill="url(#gG)" stroke="#1e1e20" stroke-width="1.9"/>
<rect x="1185.15" y="476.33" width="23.70" height="184.19" fill="#d5636e" stroke="#4a2226" stroke-width="1.9"/>
<rect x="1226.89" y="477.09" width="23.70" height="183.43" fill="url(#gG)" stroke="#1e1e20" stroke-width="1.9"/>
<rect x="1268.63" y="495.86" width="23.70" height="164.66" fill="url(#gG)" stroke="#1e1e20" stroke-width="1.9"/>
<rect x="1310.18" y="516.38" width="23.70" height="144.14" fill="url(#gG)" stroke="#1e1e20" stroke-width="1.9"/>
<line x1="1044.21" y1="354.55" x2="1044.21" y2="661.32" stroke="#2c2c2e" stroke-width="1.6" />
<line x1="1033.87" y1="660.52" x2="1349.41" y2="660.52" stroke="#2c2c2e" stroke-width="1.6" />
<line x1="1032.71" y1="660.52" x2="1044.21" y2="660.52" stroke="#2c2c2e" stroke-width="1.6" />
<text x="1016.91" y="669.44" font-size="25" text-anchor="start" fill="#3b3b3d" stroke="#3b3b3d" stroke-width="0.4">0</text>
<line x1="1032.71" y1="599.25" x2="1044.21" y2="599.25" stroke="#2c2c2e" stroke-width="1.6" />
<text x="1014.16" y="608.67" font-size="25" text-anchor="start" fill="#3b3b3d" stroke="#3b3b3d" stroke-width="0.4">2</text>
<line x1="1032.71" y1="537.98" x2="1044.21" y2="537.98" stroke="#2c2c2e" stroke-width="1.6" />
<text x="1013.66" y="547.40" font-size="25" text-anchor="start" fill="#3b3b3d" stroke="#3b3b3d" stroke-width="0.4">4</text>
<line x1="1032.71" y1="476.71" x2="1044.21" y2="476.71" stroke="#2c2c2e" stroke-width="1.6" />
<text x="1014.16" y="486.13" font-size="25" text-anchor="start" fill="#3b3b3d" stroke="#3b3b3d" stroke-width="0.4">6</text>
<line x1="1032.71" y1="415.06" x2="1044.21" y2="415.06" stroke="#2c2c2e" stroke-width="1.6" />
<text x="1014.16" y="424.48" font-size="25" text-anchor="start" fill="#3b3b3d" stroke="#3b3b3d" stroke-width="0.4">8</text>
<line x1="1071.78" y1="660.52" x2="1071.78" y2="672.02" stroke="#2c2c2e" stroke-width="1.6" />
<text x="0" y="0" transform="translate(1080.18,675.12) rotate(-90) scale(0.95,1.0)" font-size="25" text-anchor="end" fill="#3b3b3d" stroke="#3b3b3d" stroke-width="0.4">0</text>
<line x1="1113.52" y1="660.52" x2="1113.52" y2="672.02" stroke="#2c2c2e" stroke-width="1.6" />
<text x="0" y="0" transform="translate(1121.92,675.12) rotate(-90) scale(0.95,1.0)" font-size="25" text-anchor="end" fill="#3b3b3d" stroke="#3b3b3d" stroke-width="0.4">0.2</text>
<line x1="1155.26" y1="660.52" x2="1155.26" y2="672.02" stroke="#2c2c2e" stroke-width="1.6" />
<text x="0" y="0" transform="translate(1163.66,675.12) rotate(-90) scale(0.95,1.0)" font-size="25" text-anchor="end" fill="#3b3b3d" stroke="#3b3b3d" stroke-width="0.4">0.5</text>
<line x1="1197.00" y1="660.52" x2="1197.00" y2="672.02" stroke="#2c2c2e" stroke-width="1.6" />
<text x="0" y="0" transform="translate(1205.40,675.12) rotate(-90) scale(0.95,1.0)" font-size="25" text-anchor="end" fill="#3b3b3d" stroke="#3b3b3d" stroke-width="0.4">1</text>
<line x1="1238.74" y1="660.52" x2="1238.74" y2="672.02" stroke="#2c2c2e" stroke-width="1.6" />
<text x="0" y="0" transform="translate(1247.14,675.12) rotate(-90) scale(0.95,1.0)" font-size="25" text-anchor="end" fill="#3b3b3d" stroke="#3b3b3d" stroke-width="0.4">2</text>
<line x1="1280.48" y1="660.52" x2="1280.48" y2="672.02" stroke="#2c2c2e" stroke-width="1.6" />
<text x="0" y="0" transform="translate(1288.88,675.12) rotate(-90) scale(0.95,1.0)" font-size="25" text-anchor="end" fill="#3b3b3d" stroke="#3b3b3d" stroke-width="0.4">5</text>
<line x1="1322.03" y1="660.52" x2="1322.03" y2="672.02" stroke="#2c2c2e" stroke-width="1.6" />
<text x="0" y="0" transform="translate(1330.43,675.12) rotate(-90) scale(0.95,1.0)" font-size="25" text-anchor="end" fill="#3b3b3d" stroke="#3b3b3d" stroke-width="0.4">10</text>
<circle cx="1071.78" cy="445.31" r="6.0" fill="#000000"/>
<circle cx="1071.78" cy="472.88" r="6.0" fill="#000000"/>
<circle cx="1113.52" cy="455.65" r="6.0" fill="#000000"/>
<circle cx="1113.52" cy="487.05" r="6.0" fill="#000000"/>
<circle cx="1155.26" cy="454.50" r="6.0" fill="#000000"/>
<circle cx="1155.26" cy="499.30" r="6.0" fill="#000000"/>
<circle cx="1197.00" cy="452.58" r="6.0" fill="#000000"/>
<circle cx="1197.00" cy="496.24" r="6.0" fill="#000000"/>
<circle cx="1238.74" cy="448.75" r="6.0" fill="#000000"/>
<circle cx="1238.74" cy="501.60" r="6.0" fill="#000000"/>
<circle cx="1280.48" cy="467.13" r="6.0" fill="#000000"/>
<circle cx="1280.48" cy="521.13" r="6.0" fill="#000000"/>
<circle cx="1322.03" cy="479.39" r="6.0" fill="#000000"/>
<circle cx="1322.03" cy="549.85" r="6.0" fill="#000000"/>
<line x1="1044.21" y1="460.62" x2="1346.73" y2="460.62" stroke="#8d8d8f" stroke-width="1.7" stroke-dasharray="10 7.35"/>
<text x="1191.64" y="755.50" font-size="28.6" text-anchor="middle" fill="#3b3b3d" stroke="#3b3b3d" stroke-width="0.4">M3814 (uM)</text>
<rect x="1433.65" y="460.37" width="23.70" height="200.18" fill="url(#gG)" stroke="#1e1e20" stroke-width="1.9"/>
<rect x="1475.54" y="460.37" width="23.70" height="200.18" fill="url(#gG)" stroke="#1e1e20" stroke-width="1.9"/>
<rect x="1516.99" y="462.13" width="23.70" height="198.41" fill="url(#gG)" stroke="#1e1e20" stroke-width="1.9"/>
<rect x="1558.87" y="477.13" width="23.70" height="183.42" fill="#d5636e" stroke="#4a2226" stroke-width="1.9"/>
<rect x="1600.76" y="478.01" width="23.70" height="182.54" fill="url(#gG)" stroke="#1e1e20" stroke-width="1.9"/>
<rect x="1642.21" y="478.45" width="23.70" height="182.10" fill="url(#gG)" stroke="#1e1e20" stroke-width="1.9"/>
<rect x="1684.09" y="511.52" width="23.70" height="149.03" fill="url(#gG)" stroke="#1e1e20" stroke-width="1.9"/>
<line x1="1417.72" y1="354.55" x2="1417.72" y2="661.35" stroke="#2c2c2e" stroke-width="1.6" />
<line x1="1407.14" y1="660.55" x2="1724.16" y2="660.55" stroke="#2c2c2e" stroke-width="1.6" />
<line x1="1406.22" y1="660.55" x2="1417.72" y2="660.55" stroke="#2c2c2e" stroke-width="1.6" />
<text x="1390.42" y="669.47" font-size="25" text-anchor="start" fill="#3b3b3d" stroke="#3b3b3d" stroke-width="0.4">0</text>
<line x1="1406.22" y1="599.26" x2="1417.72" y2="599.26" stroke="#2c2c2e" stroke-width="1.6" />
<text x="1387.67" y="608.68" font-size="25" text-anchor="start" fill="#3b3b3d" stroke="#3b3b3d" stroke-width="0.4">2</text>
<line x1="1406.22" y1="537.97" x2="1417.72" y2="537.97" stroke="#2c2c2e" stroke-width="1.6" />
<text x="1387.17" y="547.40" font-size="25" text-anchor="start" fill="#3b3b3d" stroke="#3b3b3d" stroke-width="0.4">4</text>
<line x1="1406.22" y1="476.68" x2="1417.72" y2="476.68" stroke="#2c2c2e" stroke-width="1.6" />
<text x="1387.67" y="486.11" font-size="25" text-anchor="start" fill="#3b3b3d" stroke="#3b3b3d" stroke-width="0.4">6</text>
<line x1="1406.22" y1="415.40" x2="1417.72" y2="415.40" stroke="#2c2c2e" stroke-width="1.6" />
<text x="1387.67" y="424.82" font-size="25" text-anchor="start" fill="#3b3b3d" stroke="#3b3b3d" stroke-width="0.4">8</text>
<line x1="1445.50" y1="660.55" x2="1445.50" y2="672.05" stroke="#2c2c2e" stroke-width="1.6" />
<text x="0" y="0" transform="translate(1453.90,675.15) rotate(-90) scale(0.95,1.0)" font-size="25" text-anchor="end" fill="#3b3b3d" stroke="#3b3b3d" stroke-width="0.4">0</text>
<line x1="1487.39" y1="660.55" x2="1487.39" y2="672.05" stroke="#2c2c2e" stroke-width="1.6" />
<text x="0" y="0" transform="translate(1495.79,675.15) rotate(-90) scale(0.95,1.0)" font-size="25" text-anchor="end" fill="#3b3b3d" stroke="#3b3b3d" stroke-width="0.4">2</text>
<line x1="1528.84" y1="660.55" x2="1528.84" y2="672.05" stroke="#2c2c2e" stroke-width="1.6" />
<text x="0" y="0" transform="translate(1537.24,675.15) rotate(-90) scale(0.95,1.0)" font-size="25" text-anchor="end" fill="#3b3b3d" stroke="#3b3b3d" stroke-width="0.4">5</text>
<line x1="1570.72" y1="660.55" x2="1570.72" y2="672.05" stroke="#2c2c2e" stroke-width="1.6" />
<text x="0" y="0" transform="translate(1579.12,675.15) rotate(-90) scale(0.95,1.0)" font-size="25" text-anchor="end" fill="#3b3b3d" stroke="#3b3b3d" stroke-width="0.4">10</text>
<line x1="1612.61" y1="660.55" x2="1612.61" y2="672.05" stroke="#2c2c2e" stroke-width="1.6" />
<text x="0" y="0" transform="translate(1621.01,675.15) rotate(-90) scale(0.95,1.0)" font-size="25" text-anchor="end" fill="#3b3b3d" stroke="#3b3b3d" stroke-width="0.4">20</text>
<line x1="1654.06" y1="660.55" x2="1654.06" y2="672.05" stroke="#2c2c2e" stroke-width="1.6" />
<text x="0" y="0" transform="translate(1662.46,675.15) rotate(-90) scale(0.95,1.0)" font-size="25" text-anchor="end" fill="#3b3b3d" stroke="#3b3b3d" stroke-width="0.4">30</text>
<line x1="1695.94" y1="660.55" x2="1695.94" y2="672.05" stroke="#2c2c2e" stroke-width="1.6" />
<text x="0" y="0" transform="translate(1704.34,675.15) rotate(-90) scale(0.95,1.0)" font-size="25" text-anchor="end" fill="#3b3b3d" stroke="#3b3b3d" stroke-width="0.4">50</text>
<circle cx="1445.50" cy="445.38" r="6.0" fill="#000000"/>
<circle cx="1445.50" cy="472.72" r="6.0" fill="#000000"/>
<circle cx="1487.39" cy="440.53" r="6.0" fill="#000000"/>
<circle cx="1487.39" cy="476.68" r="6.0" fill="#000000"/>
<circle cx="1528.84" cy="432.59" r="6.0" fill="#000000"/>
<circle cx="1528.84" cy="488.59" r="6.0" fill="#000000"/>
<circle cx="1570.72" cy="451.11" r="6.0" fill="#000000"/>
<circle cx="1570.72" cy="499.17" r="6.0" fill="#000000"/>
<circle cx="1612.61" cy="444.50" r="6.0" fill="#000000"/>
<circle cx="1612.61" cy="507.11" r="6.0" fill="#000000"/>
<circle cx="1654.06" cy="439.21" r="6.0" fill="#000000"/>
<circle cx="1654.06" cy="513.72" r="6.0" fill="#000000"/>
<circle cx="1695.94" cy="468.31" r="6.0" fill="#000000"/>
<circle cx="1695.94" cy="550.32" r="6.0" fill="#000000"/>
<line x1="1417.72" y1="461.69" x2="1721.08" y2="461.69" stroke="#8d8d8f" stroke-width="1.7" stroke-dasharray="10 7.35"/>
<text x="1564.55" y="755.50" font-size="28.6" text-anchor="middle" fill="#3b3b3d" stroke="#3b3b3d" stroke-width="0.4">XL413 (uM)</text>
<rect x="1806.23" y="462.13" width="23.70" height="197.53" fill="url(#gG)" stroke="#1e1e20" stroke-width="1.9"/>
<rect x="1848.11" y="469.19" width="23.70" height="190.48" fill="url(#gG)" stroke="#1e1e20" stroke-width="1.9"/>
<rect x="1890.00" y="475.80" width="23.70" height="183.86" fill="url(#gG)" stroke="#1e1e20" stroke-width="1.9"/>
<rect x="1931.89" y="467.87" width="23.70" height="191.80" fill="url(#gG)" stroke="#1e1e20" stroke-width="1.9"/>
<rect x="1973.34" y="468.31" width="23.70" height="191.36" fill="url(#gG)" stroke="#1e1e20" stroke-width="1.9"/>
<rect x="2015.22" y="472.28" width="23.70" height="187.39" fill="url(#gG)" stroke="#1e1e20" stroke-width="1.9"/>
<rect x="2057.11" y="482.86" width="23.70" height="176.81" fill="#d5636e" stroke="#4a2226" stroke-width="1.9"/>
<line x1="1790.74" y1="354.55" x2="1790.74" y2="660.46" stroke="#2c2c2e" stroke-width="1.6" />
<line x1="1779.72" y1="659.66" x2="2097.18" y2="659.66" stroke="#2c2c2e" stroke-width="1.6" />
<line x1="1779.24" y1="659.66" x2="1790.74" y2="659.66" stroke="#2c2c2e" stroke-width="1.6" />
<text x="1763.44" y="668.59" font-size="25" text-anchor="start" fill="#3b3b3d" stroke="#3b3b3d" stroke-width="0.4">0</text>
<line x1="1779.24" y1="598.82" x2="1790.74" y2="598.82" stroke="#2c2c2e" stroke-width="1.6" />
<text x="1760.69" y="608.24" font-size="25" text-anchor="start" fill="#3b3b3d" stroke="#3b3b3d" stroke-width="0.4">2</text>
<line x1="1779.24" y1="537.53" x2="1790.74" y2="537.53" stroke="#2c2c2e" stroke-width="1.6" />
<text x="1760.19" y="546.96" font-size="25" text-anchor="start" fill="#3b3b3d" stroke="#3b3b3d" stroke-width="0.4">4</text>
<line x1="1779.24" y1="476.24" x2="1790.74" y2="476.24" stroke="#2c2c2e" stroke-width="1.6" />
<text x="1760.69" y="485.67" font-size="25" text-anchor="start" fill="#3b3b3d" stroke="#3b3b3d" stroke-width="0.4">6</text>
<line x1="1779.24" y1="415.40" x2="1790.74" y2="415.40" stroke="#2c2c2e" stroke-width="1.6" />
<text x="1760.69" y="424.82" font-size="25" text-anchor="start" fill="#3b3b3d" stroke="#3b3b3d" stroke-width="0.4">8</text>
<line x1="1818.08" y1="659.66" x2="1818.08" y2="671.16" stroke="#2c2c2e" stroke-width="1.6" />
<text x="0" y="0" transform="translate(1826.48,674.26) rotate(-90) scale(0.95,1.0)" font-size="25" text-anchor="end" fill="#3b3b3d" stroke="#3b3b3d" stroke-width="0.4">0</text>
<line x1="1859.96" y1="659.66" x2="1859.96" y2="671.16" stroke="#2c2c2e" stroke-width="1.6" />
<text x="0" y="0" transform="translate(1868.36,674.26) rotate(-90) scale(0.95,1.0)" font-size="25" text-anchor="end" fill="#3b3b3d" stroke="#3b3b3d" stroke-width="0.4">0.5</text>
<line x1="1901.85" y1="659.66" x2="1901.85" y2="671.16" stroke="#2c2c2e" stroke-width="1.6" />
<text x="0" y="0" transform="translate(1910.25,674.26) rotate(-90) scale(0.95,1.0)" font-size="25" text-anchor="end" fill="#3b3b3d" stroke="#3b3b3d" stroke-width="0.4">1</text>
<line x1="1943.74" y1="659.66" x2="1943.74" y2="671.16" stroke="#2c2c2e" stroke-width="1.6" />
<text x="0" y="0" transform="translate(1952.14,674.26) rotate(-90) scale(0.95,1.0)" font-size="25" text-anchor="end" fill="#3b3b3d" stroke="#3b3b3d" stroke-width="0.4">2</text>
<line x1="1985.19" y1="659.66" x2="1985.19" y2="671.16" stroke="#2c2c2e" stroke-width="1.6" />
<text x="0" y="0" transform="translate(1993.59,674.26) rotate(-90) scale(0.95,1.0)" font-size="25" text-anchor="end" fill="#3b3b3d" stroke="#3b3b3d" stroke-width="0.4">5</text>
<line x1="2027.07" y1="659.66" x2="2027.07" y2="671.16" stroke="#2c2c2e" stroke-width="1.6" />
<text x="0" y="0" transform="translate(2035.47,674.26) rotate(-90) scale(0.95,1.0)" font-size="25" text-anchor="end" fill="#3b3b3d" stroke="#3b3b3d" stroke-width="0.4">10</text>
<line x1="2068.96" y1="659.66" x2="2068.96" y2="671.16" stroke="#2c2c2e" stroke-width="1.6" />
<text x="0" y="0" transform="translate(2077.36,674.26) rotate(-90) scale(0.95,1.0)" font-size="25" text-anchor="end" fill="#3b3b3d" stroke="#3b3b3d" stroke-width="0.4">20</text>
<circle cx="1818.08" cy="433.03" r="6.0" fill="#000000"/>
<circle cx="1818.08" cy="487.27" r="6.0" fill="#000000"/>
<circle cx="1859.96" cy="429.51" r="6.0" fill="#000000"/>
<circle cx="1859.96" cy="505.34" r="6.0" fill="#000000"/>
<circle cx="1901.85" cy="440.09" r="6.0" fill="#000000"/>
<circle cx="1901.85" cy="507.11" r="6.0" fill="#000000"/>
<circle cx="1943.74" cy="427.30" r="6.0" fill="#000000"/>
<circle cx="1943.74" cy="504.46" r="6.0" fill="#000000"/>
<circle cx="1985.19" cy="432.15" r="6.0" fill="#000000"/>
<circle cx="1985.19" cy="500.49" r="6.0" fill="#000000"/>
<circle cx="2027.07" cy="445.38" r="6.0" fill="#000000"/>
<circle cx="2027.07" cy="495.20" r="6.0" fill="#000000"/>
<circle cx="2068.96" cy="444.06" r="6.0" fill="#000000"/>
<circle cx="2068.96" cy="517.69" r="6.0" fill="#000000"/>
<line x1="1790.74" y1="463.02" x2="2095.86" y2="463.02" stroke="#8d8d8f" stroke-width="1.7" stroke-dasharray="10 7.35"/>
<text x="1929.63" y="755.50" font-size="28.6" text-anchor="middle" fill="#3b3b3d" stroke="#3b3b3d" stroke-width="0.4">HDR enhancer (uM)</text>
<text x="0" y="0" transform="translate(68.00,500.50) rotate(-90) scale(0.94,1.0)" font-size="30" text-anchor="middle" fill="#3b3b3d" stroke="#3b3b3d" stroke-width="0.4">Live Count (e4)</text>
<rect x="178.15" y="981.89" width="28.10" height="89.41" fill="url(#gG)" stroke="#343436" stroke-width="1.9"/>
<rect x="281.74" y="968.90" width="28.10" height="102.40" fill="url(#gG)" stroke="#343436" stroke-width="1.9"/>
<rect x="333.33" y="946.05" width="28.10" height="125.25" fill="url(#gG)" stroke="#343436" stroke-width="1.9"/>
<rect x="384.93" y="937.78" width="28.10" height="133.52" fill="#d5636e" stroke="#6a3339" stroke-width="1.9"/>
<rect x="436.91" y="941.33" width="28.10" height="129.97" fill="url(#gG)" stroke="#343436" stroke-width="1.9"/>
<rect x="488.12" y="956.69" width="28.10" height="114.61" fill="url(#gG)" stroke="#343436" stroke-width="1.9"/>
<rect x="592.09" y="936.60" width="28.10" height="134.70" fill="url(#gG)" stroke="#343436" stroke-width="1.9"/>
<rect x="643.69" y="924.00" width="28.10" height="147.30" fill="url(#gB)" stroke="#14233f" stroke-width="2.2"/>
<rect x="695.49" y="924.79" width="28.10" height="146.51" fill="url(#gG)" stroke="#343436" stroke-width="1.9"/>
<rect x="747.08" y="936.99" width="28.10" height="134.30" fill="url(#gG)" stroke="#343436" stroke-width="1.9"/>
<rect x="799.07" y="906.67" width="28.10" height="164.63" fill="url(#gG)" stroke="#343436" stroke-width="1.9"/>
<rect x="850.67" y="890.52" width="28.10" height="180.78" fill="url(#gG)" stroke="#343436" stroke-width="1.9"/>
<rect x="902.26" y="941.33" width="28.10" height="129.97" fill="url(#gG)" stroke="#343436" stroke-width="1.9"/>
<rect x="953.86" y="955.51" width="28.10" height="115.79" fill="url(#gG)" stroke="#343436" stroke-width="1.9"/>
<rect x="1005.85" y="933.45" width="28.10" height="137.85" fill="url(#gG)" stroke="#343436" stroke-width="1.9"/>
<rect x="1057.44" y="927.94" width="28.10" height="143.36" fill="url(#gG)" stroke="#343436" stroke-width="1.9"/>
<rect x="1161.03" y="927.54" width="28.10" height="143.76" fill="url(#gG)" stroke="#343436" stroke-width="1.9"/>
<rect x="1212.62" y="874.77" width="28.10" height="196.53" fill="url(#gG)" stroke="#343436" stroke-width="1.9"/>
<rect x="1264.61" y="926.36" width="28.10" height="144.94" fill="url(#gG)" stroke="#343436" stroke-width="1.9"/>
<rect x="1316.71" y="861.77" width="28.10" height="209.53" fill="url(#gY)" stroke="#1a1a1a" stroke-width="2.2"/>
<rect x="1367.80" y="914.15" width="28.10" height="157.15" fill="url(#gG)" stroke="#343436" stroke-width="1.9"/>
<rect x="1419.61" y="897.22" width="28.10" height="174.08" fill="url(#gG)" stroke="#343436" stroke-width="1.9"/>
<rect x="1471.20" y="897.22" width="28.10" height="174.08" fill="url(#gG)" stroke="#343436" stroke-width="1.9"/>
<rect x="1523.19" y="946.84" width="28.10" height="124.46" fill="url(#gG)" stroke="#343436" stroke-width="1.9"/>
<rect x="1574.79" y="918.48" width="28.10" height="152.82" fill="url(#gG)" stroke="#343436" stroke-width="1.9"/>
<rect x="1626.77" y="899.58" width="28.10" height="171.72" fill="url(#gG)" stroke="#343436" stroke-width="1.9"/>
<rect x="1730.36" y="860.19" width="28.10" height="211.11" fill="url(#gG)" stroke="#343436" stroke-width="1.9"/>
<rect x="1781.95" y="914.15" width="28.10" height="157.15" fill="url(#gG)" stroke="#343436" stroke-width="1.9"/>
<rect x="1833.55" y="878.70" width="28.10" height="192.60" fill="url(#gG)" stroke="#343436" stroke-width="1.9"/>
<rect x="1885.14" y="867.28" width="28.10" height="204.02" fill="url(#gG)" stroke="#343436" stroke-width="1.9"/>
<rect x="1937.13" y="900.37" width="28.10" height="170.93" fill="url(#gG)" stroke="#343436" stroke-width="1.9"/>
<rect x="2040.32" y="868.86" width="28.10" height="202.44" fill="url(#gG)" stroke="#343436" stroke-width="1.9"/>
<line x1="158.33" y1="798.74" x2="158.33" y2="1072.10" stroke="#3a3a3c" stroke-width="1.6" />
<line x1="148.88" y1="1071.30" x2="2089.03" y2="1071.30" stroke="#3a3a3c" stroke-width="1.6" />
<line x1="148.83" y1="1071.30" x2="158.33" y2="1071.30" stroke="#3a3a3c" stroke-width="1.6" />
<text x="126.10" y="1080.22" font-size="25" text-anchor="start" fill="#3b3b3d" stroke="#3b3b3d" stroke-width="0.4">0</text>
<line x1="148.83" y1="980.71" x2="158.33" y2="980.71" stroke="#3a3a3c" stroke-width="1.6" />
<text x="126.35" y="989.64" font-size="25" text-anchor="start" fill="#3b3b3d" stroke="#3b3b3d" stroke-width="0.4">1</text>
<line x1="148.83" y1="890.13" x2="158.33" y2="890.13" stroke="#3a3a3c" stroke-width="1.6" />
<text x="126.35" y="899.05" font-size="25" text-anchor="start" fill="#3b3b3d" stroke="#3b3b3d" stroke-width="0.4">2</text>
<line x1="148.83" y1="799.54" x2="158.33" y2="799.54" stroke="#3a3a3c" stroke-width="1.6" />
<text x="126.35" y="808.46" font-size="25" text-anchor="start" fill="#3b3b3d" stroke="#3b3b3d" stroke-width="0.4">3</text>
<line x1="192.20" y1="1071.30" x2="192.20" y2="1077.80" stroke="#3a3a3c" stroke-width="1.4" />
<ellipse cx="183.54" cy="980.71" rx="8.3" ry="5.6" fill="#3a3a3c"/>
<ellipse cx="201.26" cy="980.71" rx="8.3" ry="5.6" fill="#3a3a3c"/>
<line x1="295.79" y1="1071.30" x2="295.79" y2="1077.80" stroke="#3a3a3c" stroke-width="1.4" />
<ellipse cx="287.12" cy="968.90" rx="8.3" ry="5.6" fill="#3a3a3c"/>
<ellipse cx="304.84" cy="963.78" rx="8.3" ry="5.6" fill="#3a3a3c"/>
<line x1="347.38" y1="1071.30" x2="347.38" y2="1077.80" stroke="#3a3a3c" stroke-width="1.4" />
<ellipse cx="338.72" cy="945.27" rx="8.3" ry="5.6" fill="#3a3a3c"/>
<ellipse cx="356.83" cy="942.51" rx="8.3" ry="5.6" fill="#3a3a3c"/>
<line x1="398.98" y1="1071.30" x2="398.98" y2="1077.80" stroke="#3a3a3c" stroke-width="1.4" />
<ellipse cx="390.31" cy="939.75" rx="8.3" ry="5.6" fill="#3a3a3c"/>
<ellipse cx="408.43" cy="931.48" rx="8.3" ry="5.6" fill="#3a3a3c"/>
<line x1="450.96" y1="1071.30" x2="450.96" y2="1077.80" stroke="#3a3a3c" stroke-width="1.4" />
<ellipse cx="441.91" cy="943.30" rx="8.3" ry="5.6" fill="#3a3a3c"/>
<ellipse cx="459.63" cy="935.81" rx="8.3" ry="5.6" fill="#3a3a3c"/>
<line x1="502.17" y1="1071.30" x2="502.17" y2="1077.80" stroke="#3a3a3c" stroke-width="1.4" />
<ellipse cx="493.50" cy="959.84" rx="8.3" ry="5.6" fill="#3a3a3c"/>
<ellipse cx="511.62" cy="949.60" rx="8.3" ry="5.6" fill="#3a3a3c"/>
<line x1="606.14" y1="1071.30" x2="606.14" y2="1077.80" stroke="#3a3a3c" stroke-width="1.4" />
<ellipse cx="597.09" cy="937.78" rx="8.3" ry="5.6" fill="#3a3a3c"/>
<ellipse cx="614.81" cy="932.27" rx="8.3" ry="5.6" fill="#3a3a3c"/>
<line x1="657.74" y1="1071.30" x2="657.74" y2="1077.80" stroke="#3a3a3c" stroke-width="1.4" />
<ellipse cx="649.07" cy="922.82" rx="8.3" ry="5.6" fill="#3a3a3c"/>
<ellipse cx="667.19" cy="920.85" rx="8.3" ry="5.6" fill="#3a3a3c"/>
<line x1="709.54" y1="1071.30" x2="709.54" y2="1077.80" stroke="#3a3a3c" stroke-width="1.4" />
<ellipse cx="700.87" cy="924.00" rx="8.3" ry="5.6" fill="#3a3a3c"/>
<ellipse cx="718.60" cy="921.63" rx="8.3" ry="5.6" fill="#3a3a3c"/>
<line x1="761.13" y1="1071.30" x2="761.13" y2="1077.80" stroke="#3a3a3c" stroke-width="1.4" />
<ellipse cx="752.47" cy="939.75" rx="8.3" ry="5.6" fill="#3a3a3c"/>
<ellipse cx="770.19" cy="930.69" rx="8.3" ry="5.6" fill="#3a3a3c"/>
<line x1="813.12" y1="1071.30" x2="813.12" y2="1077.80" stroke="#3a3a3c" stroke-width="1.4" />
<ellipse cx="804.06" cy="907.85" rx="8.3" ry="5.6" fill="#3a3a3c"/>
<ellipse cx="822.18" cy="900.37" rx="8.3" ry="5.6" fill="#3a3a3c"/>
<line x1="864.72" y1="1071.30" x2="864.72" y2="1077.80" stroke="#3a3a3c" stroke-width="1.4" />
<ellipse cx="864.72" cy="877.92" rx="8.3" ry="5.6" fill="#3a3a3c"/>
<ellipse cx="864.72" cy="899.18" rx="8.3" ry="5.6" fill="#3a3a3c"/>
<line x1="916.31" y1="1071.30" x2="916.31" y2="1077.80" stroke="#3a3a3c" stroke-width="1.4" />
<ellipse cx="907.65" cy="940.93" rx="8.3" ry="5.6" fill="#3a3a3c"/>
<ellipse cx="925.37" cy="936.99" rx="8.3" ry="5.6" fill="#3a3a3c"/>
<line x1="967.91" y1="1071.30" x2="967.91" y2="1077.80" stroke="#3a3a3c" stroke-width="1.4" />
<ellipse cx="959.64" cy="954.32" rx="8.3" ry="5.6" fill="#3a3a3c"/>
<ellipse cx="977.36" cy="951.96" rx="8.3" ry="5.6" fill="#3a3a3c"/>
<line x1="1019.90" y1="1071.30" x2="1019.90" y2="1077.80" stroke="#3a3a3c" stroke-width="1.4" />
<ellipse cx="1010.84" cy="936.60" rx="8.3" ry="5.6" fill="#3a3a3c"/>
<ellipse cx="1028.96" cy="926.36" rx="8.3" ry="5.6" fill="#3a3a3c"/>
<line x1="1071.49" y1="1071.30" x2="1071.49" y2="1077.80" stroke="#3a3a3c" stroke-width="1.4" />
<ellipse cx="1071.49" cy="916.51" rx="8.3" ry="5.6" fill="#3a3a3c"/>
<ellipse cx="1071.49" cy="935.81" rx="8.3" ry="5.6" fill="#3a3a3c"/>
<line x1="1175.08" y1="1071.30" x2="1175.08" y2="1077.80" stroke="#3a3a3c" stroke-width="1.4" />
<ellipse cx="1166.02" cy="929.51" rx="8.3" ry="5.6" fill="#3a3a3c"/>
<ellipse cx="1184.14" cy="920.06" rx="8.3" ry="5.6" fill="#3a3a3c"/>
<line x1="1226.67" y1="1071.30" x2="1226.67" y2="1077.80" stroke="#3a3a3c" stroke-width="1.4" />
<ellipse cx="1226.67" cy="861.77" rx="8.3" ry="5.6" fill="#3a3a3c"/>
<ellipse cx="1226.67" cy="884.22" rx="8.3" ry="5.6" fill="#3a3a3c"/>
<line x1="1278.66" y1="1071.30" x2="1278.66" y2="1077.80" stroke="#3a3a3c" stroke-width="1.4" />
<ellipse cx="1269.60" cy="924.39" rx="8.3" ry="5.6" fill="#3a3a3c"/>
<ellipse cx="1287.72" cy="924.39" rx="8.3" ry="5.6" fill="#3a3a3c"/>
<line x1="1330.26" y1="1071.30" x2="1330.26" y2="1077.80" stroke="#3a3a3c" stroke-width="1.4" />
<ellipse cx="1330.26" cy="850.35" rx="8.3" ry="5.6" fill="#3a3a3c"/>
<ellipse cx="1330.26" cy="869.25" rx="8.3" ry="5.6" fill="#3a3a3c"/>
<line x1="1381.85" y1="1071.30" x2="1381.85" y2="1077.80" stroke="#3a3a3c" stroke-width="1.4" />
<ellipse cx="1373.19" cy="912.58" rx="8.3" ry="5.6" fill="#3a3a3c"/>
<ellipse cx="1391.30" cy="909.82" rx="8.3" ry="5.6" fill="#3a3a3c"/>
<line x1="1433.66" y1="1071.30" x2="1433.66" y2="1077.80" stroke="#3a3a3c" stroke-width="1.4" />
<ellipse cx="1424.60" cy="900.37" rx="8.3" ry="5.6" fill="#3a3a3c"/>
<ellipse cx="1443.11" cy="890.52" rx="8.3" ry="5.6" fill="#3a3a3c"/>
<line x1="1485.25" y1="1071.30" x2="1485.25" y2="1077.80" stroke="#3a3a3c" stroke-width="1.4" />
<ellipse cx="1485.25" cy="879.10" rx="8.3" ry="5.6" fill="#3a3a3c"/>
<ellipse cx="1485.25" cy="911.79" rx="8.3" ry="5.6" fill="#3a3a3c"/>
<line x1="1537.24" y1="1071.30" x2="1537.24" y2="1077.80" stroke="#3a3a3c" stroke-width="1.4" />
<ellipse cx="1528.18" cy="946.05" rx="8.3" ry="5.6" fill="#3a3a3c"/>
<ellipse cx="1546.69" cy="942.12" rx="8.3" ry="5.6" fill="#3a3a3c"/>
<line x1="1588.84" y1="1071.30" x2="1588.84" y2="1077.80" stroke="#3a3a3c" stroke-width="1.4" />
<ellipse cx="1588.84" cy="909.42" rx="8.3" ry="5.6" fill="#3a3a3c"/>
<ellipse cx="1588.84" cy="922.82" rx="8.3" ry="5.6" fill="#3a3a3c"/>
<line x1="1640.82" y1="1071.30" x2="1640.82" y2="1077.80" stroke="#3a3a3c" stroke-width="1.4" />
<ellipse cx="1640.82" cy="891.31" rx="8.3" ry="5.6" fill="#3a3a3c"/>
<ellipse cx="1640.82" cy="904.30" rx="8.3" ry="5.6" fill="#3a3a3c"/>
<line x1="1744.41" y1="1071.30" x2="1744.41" y2="1077.80" stroke="#3a3a3c" stroke-width="1.4" />
<ellipse cx="1744.41" cy="844.83" rx="8.3" ry="5.6" fill="#3a3a3c"/>
<ellipse cx="1744.41" cy="871.61" rx="8.3" ry="5.6" fill="#3a3a3c"/>
<line x1="1796.00" y1="1071.30" x2="1796.00" y2="1077.80" stroke="#3a3a3c" stroke-width="1.4" />
<ellipse cx="1786.95" cy="912.97" rx="8.3" ry="5.6" fill="#3a3a3c"/>
<ellipse cx="1805.46" cy="911.00" rx="8.3" ry="5.6" fill="#3a3a3c"/>
<line x1="1847.60" y1="1071.30" x2="1847.60" y2="1077.80" stroke="#3a3a3c" stroke-width="1.4" />
<ellipse cx="1838.54" cy="879.10" rx="8.3" ry="5.6" fill="#3a3a3c"/>
<ellipse cx="1856.66" cy="874.37" rx="8.3" ry="5.6" fill="#3a3a3c"/>
<line x1="1899.19" y1="1071.30" x2="1899.19" y2="1077.80" stroke="#3a3a3c" stroke-width="1.4" />
<ellipse cx="1890.53" cy="870.43" rx="8.3" ry="5.6" fill="#3a3a3c"/>
<ellipse cx="1908.65" cy="860.59" rx="8.3" ry="5.6" fill="#3a3a3c"/>
<line x1="1951.18" y1="1071.30" x2="1951.18" y2="1077.80" stroke="#3a3a3c" stroke-width="1.4" />
<ellipse cx="1942.12" cy="901.94" rx="8.3" ry="5.6" fill="#3a3a3c"/>
<ellipse cx="1960.24" cy="894.85" rx="8.3" ry="5.6" fill="#3a3a3c"/>
<line x1="2054.37" y1="1071.30" x2="2054.37" y2="1077.80" stroke="#3a3a3c" stroke-width="1.4" />
<ellipse cx="2054.37" cy="861.77" rx="8.3" ry="5.6" fill="#3a3a3c"/>
<ellipse cx="2054.37" cy="873.19" rx="8.3" ry="5.6" fill="#3a3a3c"/>
<line x1="158.33" y1="980.71" x2="2091.00" y2="980.71" stroke="#8e8e90" stroke-width="1.7" stroke-dasharray="10.2 6.6"/>
<text x="398.98" y="909.70" font-size="29" text-anchor="middle" fill="#3b3b3d" stroke="#3b3b3d" stroke-width="0.4">M</text>
<text x="660.50" y="895.55" font-size="29" text-anchor="middle" fill="#3b3b3d" stroke="#3b3b3d" stroke-width="0.4">MT</text>
<text x="1331.20" y="832.62" font-size="29" text-anchor="middle" fill="#000000" stroke="#000000" stroke-width="0.4">MTX</text>
<text x="0" y="0" transform="translate(68.50,938.30) rotate(-90) scale(0.94,1.0)" font-size="30" text-anchor="middle" fill="#3b3b3d" stroke="#3b3b3d" stroke-width="0.4">Relative %Knockin</text>
<text x="0" y="0" transform="translate(96.70,941.50) rotate(-90) scale(1.03,1.0)" font-size="29" text-anchor="middle" fill="#3b3b3d" stroke="#3b3b3d" stroke-width="0.4">(CD5+HA+)</text>
<rect x="179.98" y="1152.71" width="27.60" height="167.78" fill="url(#gG)" stroke="#141414" stroke-width="2.0"/>
<rect x="283.56" y="1135.77" width="27.60" height="184.72" fill="url(#gG)" stroke="#141414" stroke-width="2.0"/>
<rect x="335.16" y="1150.74" width="27.60" height="169.75" fill="url(#gG)" stroke="#141414" stroke-width="2.0"/>
<rect x="386.75" y="1163.34" width="27.60" height="157.15" fill="#d5636e" stroke="#3d1c20" stroke-width="2.0"/>
<rect x="438.35" y="1211.00" width="27.60" height="109.49" fill="url(#gG)" stroke="#141414" stroke-width="2.0"/>
<rect x="489.94" y="1150.74" width="27.60" height="169.75" fill="url(#gG)" stroke="#141414" stroke-width="2.0"/>
<rect x="592.74" y="1137.35" width="27.60" height="183.14" fill="url(#gG)" stroke="#141414" stroke-width="2.0"/>
<rect x="644.33" y="1150.74" width="27.60" height="169.75" fill="url(#gB)" stroke="#0c1830" stroke-width="2.1"/>
<rect x="695.74" y="1202.73" width="27.60" height="117.76" fill="url(#gG)" stroke="#141414" stroke-width="2.0"/>
<rect x="747.33" y="1155.47" width="27.60" height="165.03" fill="url(#gG)" stroke="#141414" stroke-width="2.0"/>
<rect x="798.93" y="1216.12" width="27.60" height="104.37" fill="url(#gG)" stroke="#141414" stroke-width="2.0"/>
<rect x="850.52" y="1229.12" width="27.60" height="91.37" fill="url(#gG)" stroke="#141414" stroke-width="2.0"/>
<rect x="902.12" y="1144.83" width="27.60" height="175.66" fill="url(#gG)" stroke="#141414" stroke-width="2.0"/>
<rect x="953.71" y="1151.53" width="27.60" height="168.96" fill="url(#gG)" stroke="#141414" stroke-width="2.0"/>
<rect x="1005.31" y="1154.68" width="27.60" height="165.81" fill="url(#gG)" stroke="#141414" stroke-width="2.0"/>
<rect x="1056.51" y="1215.73" width="27.60" height="104.77" fill="url(#gG)" stroke="#141414" stroke-width="2.0"/>
<rect x="1159.70" y="1141.68" width="27.60" height="178.81" fill="url(#gG)" stroke="#141414" stroke-width="2.0"/>
<rect x="1211.30" y="1220.06" width="27.60" height="100.43" fill="url(#gG)" stroke="#141414" stroke-width="2.0"/>
<rect x="1262.89" y="1145.23" width="27.60" height="175.27" fill="url(#gG)" stroke="#141414" stroke-width="2.0"/>
<rect x="1314.49" y="1221.63" width="27.60" height="98.86" fill="url(#gY)" stroke="#141414" stroke-width="2.1"/>
<rect x="1366.08" y="1146.01" width="27.60" height="174.48" fill="url(#gG)" stroke="#141414" stroke-width="2.0"/>
<rect x="1417.49" y="1214.94" width="27.60" height="105.55" fill="url(#gG)" stroke="#141414" stroke-width="2.0"/>
<rect x="1469.09" y="1230.30" width="27.60" height="90.19" fill="url(#gG)" stroke="#141414" stroke-width="2.0"/>
<rect x="1520.29" y="1150.74" width="27.60" height="169.75" fill="url(#gG)" stroke="#141414" stroke-width="2.0"/>
<rect x="1571.88" y="1213.76" width="27.60" height="106.73" fill="url(#gG)" stroke="#141414" stroke-width="2.0"/>
<rect x="1623.48" y="1227.94" width="27.60" height="92.56" fill="url(#gG)" stroke="#141414" stroke-width="2.0"/>
<rect x="1726.67" y="1224.00" width="27.60" height="96.49" fill="url(#gG)" stroke="#141414" stroke-width="2.0"/>
<rect x="1778.27" y="1146.01" width="27.60" height="174.48" fill="url(#gG)" stroke="#141414" stroke-width="2.0"/>
<rect x="1829.47" y="1214.94" width="27.60" height="105.55" fill="url(#gG)" stroke="#141414" stroke-width="2.0"/>
<rect x="1881.06" y="1227.54" width="27.60" height="92.95" fill="url(#gG)" stroke="#141414" stroke-width="2.0"/>
<rect x="1932.66" y="1217.70" width="27.60" height="102.80" fill="url(#gG)" stroke="#141414" stroke-width="2.0"/>
<rect x="2035.85" y="1229.51" width="27.60" height="90.98" fill="url(#gG)" stroke="#141414" stroke-width="2.0"/>
<line x1="157.54" y1="1150.35" x2="2085.09" y2="1150.35" stroke="#98989a" stroke-width="2.2" stroke-dasharray="10.8 6.5"/>
<line x1="157.54" y1="1090.48" x2="157.54" y2="1321.29" stroke="#2a2a2a" stroke-width="1.6" />
<line x1="147.70" y1="1320.49" x2="2084.31" y2="1320.49" stroke="#101010" stroke-width="2.4" />
<line x1="148.04" y1="1320.49" x2="157.54" y2="1320.49" stroke="#1c1c1c" stroke-width="1.9" />
<text x="129.90" y="1328.52" font-size="25" text-anchor="start" fill="#3b3b3d" stroke="#3b3b3d" stroke-width="0.4">0</text>
<line x1="148.04" y1="1221.74" x2="157.54" y2="1221.74" stroke="#1c1c1c" stroke-width="1.9" />
<text x="125.85" y="1230.57" font-size="25" text-anchor="start" fill="#3b3b3d" stroke="#3b3b3d" stroke-width="0.4">4</text>
<line x1="148.04" y1="1122.49" x2="157.54" y2="1122.49" stroke="#1c1c1c" stroke-width="1.9" />
<text x="126.35" y="1131.31" font-size="25" text-anchor="start" fill="#3b3b3d" stroke="#3b3b3d" stroke-width="0.4">8</text>
<line x1="193.18" y1="1320.49" x2="193.18" y2="1335.09" stroke="#101010" stroke-width="2.2" />
<ellipse cx="185.11" cy="1153.50" rx="8.5" ry="6.0" fill="#000000"/>
<ellipse cx="203.23" cy="1149.17" rx="8.5" ry="6.0" fill="#000000"/>
<line x1="296.76" y1="1320.49" x2="296.76" y2="1335.09" stroke="#101010" stroke-width="2.2" />
<ellipse cx="288.30" cy="1134.20" rx="8.5" ry="6.0" fill="#000000"/>
<ellipse cx="306.42" cy="1132.23" rx="8.5" ry="6.0" fill="#000000"/>
<line x1="348.36" y1="1320.49" x2="348.36" y2="1335.09" stroke="#101010" stroke-width="2.2" />
<ellipse cx="339.90" cy="1152.71" rx="8.5" ry="6.0" fill="#000000"/>
<ellipse cx="358.01" cy="1144.04" rx="8.5" ry="6.0" fill="#000000"/>
<line x1="399.95" y1="1320.49" x2="399.95" y2="1335.09" stroke="#101010" stroke-width="2.2" />
<ellipse cx="391.49" cy="1162.95" rx="8.5" ry="6.0" fill="#000000"/>
<ellipse cx="409.61" cy="1159.01" rx="8.5" ry="6.0" fill="#000000"/>
<line x1="451.55" y1="1320.49" x2="451.55" y2="1335.09" stroke="#101010" stroke-width="2.2" />
<ellipse cx="452.15" cy="1203.12" rx="8.5" ry="6.0" fill="#000000"/>
<ellipse cx="452.15" cy="1215.73" rx="8.5" ry="6.0" fill="#000000"/>
<line x1="503.14" y1="1320.49" x2="503.14" y2="1335.09" stroke="#101010" stroke-width="2.2" />
<ellipse cx="495.08" cy="1149.56" rx="8.5" ry="6.0" fill="#000000"/>
<ellipse cx="512.80" cy="1147.20" rx="8.5" ry="6.0" fill="#000000"/>
<line x1="605.94" y1="1320.49" x2="605.94" y2="1335.09" stroke="#101010" stroke-width="2.2" />
<ellipse cx="606.54" cy="1125.53" rx="8.5" ry="6.0" fill="#000000"/>
<ellipse cx="606.54" cy="1144.83" rx="8.5" ry="6.0" fill="#000000"/>
<line x1="657.53" y1="1320.49" x2="657.53" y2="1335.09" stroke="#101010" stroke-width="2.2" />
<ellipse cx="649.07" cy="1153.10" rx="8.5" ry="6.0" fill="#000000"/>
<ellipse cx="667.19" cy="1143.65" rx="8.5" ry="6.0" fill="#000000"/>
<line x1="708.94" y1="1320.49" x2="708.94" y2="1335.09" stroke="#101010" stroke-width="2.2" />
<ellipse cx="709.54" cy="1188.94" rx="8.5" ry="6.0" fill="#000000"/>
<ellipse cx="709.54" cy="1212.18" rx="8.5" ry="6.0" fill="#000000"/>
<line x1="760.53" y1="1320.49" x2="760.53" y2="1335.09" stroke="#101010" stroke-width="2.2" />
<ellipse cx="752.47" cy="1159.01" rx="8.5" ry="6.0" fill="#000000"/>
<ellipse cx="770.19" cy="1147.98" rx="8.5" ry="6.0" fill="#000000"/>
<line x1="812.13" y1="1320.49" x2="812.13" y2="1335.09" stroke="#101010" stroke-width="2.2" />
<ellipse cx="812.73" cy="1207.06" rx="8.5" ry="6.0" fill="#000000"/>
<ellipse cx="812.73" cy="1220.85" rx="8.5" ry="6.0" fill="#000000"/>
<line x1="863.72" y1="1320.49" x2="863.72" y2="1335.09" stroke="#101010" stroke-width="2.2" />
<ellipse cx="855.27" cy="1228.72" rx="8.5" ry="6.0" fill="#000000"/>
<ellipse cx="873.38" cy="1224.00" rx="8.5" ry="6.0" fill="#000000"/>
<line x1="915.32" y1="1320.49" x2="915.32" y2="1335.09" stroke="#101010" stroke-width="2.2" />
<ellipse cx="907.25" cy="1143.26" rx="8.5" ry="6.0" fill="#000000"/>
<ellipse cx="924.98" cy="1139.71" rx="8.5" ry="6.0" fill="#000000"/>
<line x1="966.91" y1="1320.49" x2="966.91" y2="1335.09" stroke="#101010" stroke-width="2.2" />
<ellipse cx="967.12" cy="1142.86" rx="8.5" ry="6.0" fill="#000000"/>
<ellipse cx="967.12" cy="1155.07" rx="8.5" ry="6.0" fill="#000000"/>
<line x1="1018.51" y1="1320.49" x2="1018.51" y2="1335.09" stroke="#101010" stroke-width="2.2" />
<ellipse cx="1010.45" cy="1156.65" rx="8.5" ry="6.0" fill="#000000"/>
<ellipse cx="1028.17" cy="1150.35" rx="8.5" ry="6.0" fill="#000000"/>
<line x1="1069.71" y1="1320.49" x2="1069.71" y2="1335.09" stroke="#101010" stroke-width="2.2" />
<ellipse cx="1070.31" cy="1204.30" rx="8.5" ry="6.0" fill="#000000"/>
<ellipse cx="1070.31" cy="1222.82" rx="8.5" ry="6.0" fill="#000000"/>
<line x1="1172.90" y1="1320.49" x2="1172.90" y2="1335.09" stroke="#101010" stroke-width="2.2" />
<ellipse cx="1173.50" cy="1129.47" rx="8.5" ry="6.0" fill="#000000"/>
<ellipse cx="1173.50" cy="1149.17" rx="8.5" ry="6.0" fill="#000000"/>
<line x1="1224.50" y1="1320.49" x2="1224.50" y2="1335.09" stroke="#101010" stroke-width="2.2" />
<ellipse cx="1225.10" cy="1208.64" rx="8.5" ry="6.0" fill="#000000"/>
<ellipse cx="1225.10" cy="1227.54" rx="8.5" ry="6.0" fill="#000000"/>
<line x1="1276.09" y1="1320.49" x2="1276.09" y2="1335.09" stroke="#101010" stroke-width="2.2" />
<ellipse cx="1276.69" cy="1136.96" rx="8.5" ry="6.0" fill="#000000"/>
<ellipse cx="1276.69" cy="1149.95" rx="8.5" ry="6.0" fill="#000000"/>
<line x1="1327.69" y1="1320.49" x2="1327.69" y2="1335.09" stroke="#101010" stroke-width="2.2" />
<ellipse cx="1319.62" cy="1224.00" rx="8.5" ry="6.0" fill="#000000"/>
<ellipse cx="1337.35" cy="1214.94" rx="8.5" ry="6.0" fill="#000000"/>
<line x1="1379.28" y1="1320.49" x2="1379.28" y2="1335.09" stroke="#101010" stroke-width="2.2" />
<ellipse cx="1379.88" cy="1137.35" rx="8.5" ry="6.0" fill="#000000"/>
<ellipse cx="1379.88" cy="1150.74" rx="8.5" ry="6.0" fill="#000000"/>
<line x1="1430.69" y1="1320.49" x2="1430.69" y2="1335.09" stroke="#101010" stroke-width="2.2" />
<ellipse cx="1431.29" cy="1204.70" rx="8.5" ry="6.0" fill="#000000"/>
<ellipse cx="1431.29" cy="1220.85" rx="8.5" ry="6.0" fill="#000000"/>
<line x1="1482.29" y1="1320.49" x2="1482.29" y2="1335.09" stroke="#101010" stroke-width="2.2" />
<ellipse cx="1482.89" cy="1221.63" rx="8.5" ry="6.0" fill="#000000"/>
<ellipse cx="1482.89" cy="1234.63" rx="8.5" ry="6.0" fill="#000000"/>
<line x1="1533.49" y1="1320.49" x2="1533.49" y2="1335.09" stroke="#101010" stroke-width="2.2" />
<ellipse cx="1534.09" cy="1140.89" rx="8.5" ry="6.0" fill="#000000"/>
<ellipse cx="1534.09" cy="1158.22" rx="8.5" ry="6.0" fill="#000000"/>
<line x1="1585.08" y1="1320.49" x2="1585.08" y2="1335.09" stroke="#101010" stroke-width="2.2" />
<ellipse cx="1585.68" cy="1201.55" rx="8.5" ry="6.0" fill="#000000"/>
<ellipse cx="1585.68" cy="1221.63" rx="8.5" ry="6.0" fill="#000000"/>
<line x1="1636.68" y1="1320.49" x2="1636.68" y2="1335.09" stroke="#101010" stroke-width="2.2" />
<ellipse cx="1637.28" cy="1217.70" rx="8.5" ry="6.0" fill="#000000"/>
<ellipse cx="1637.28" cy="1234.24" rx="8.5" ry="6.0" fill="#000000"/>
<line x1="1739.87" y1="1320.49" x2="1739.87" y2="1335.09" stroke="#101010" stroke-width="2.2" />
<ellipse cx="1731.41" cy="1224.00" rx="8.5" ry="6.0" fill="#000000"/>
<ellipse cx="1749.14" cy="1218.48" rx="8.5" ry="6.0" fill="#000000"/>
<line x1="1791.47" y1="1320.49" x2="1791.47" y2="1335.09" stroke="#101010" stroke-width="2.2" />
<ellipse cx="1792.07" cy="1127.90" rx="8.5" ry="6.0" fill="#000000"/>
<ellipse cx="1792.07" cy="1160.19" rx="8.5" ry="6.0" fill="#000000"/>
<line x1="1842.67" y1="1320.49" x2="1842.67" y2="1335.09" stroke="#101010" stroke-width="2.2" />
<ellipse cx="1843.27" cy="1201.15" rx="8.5" ry="6.0" fill="#000000"/>
<ellipse cx="1843.27" cy="1224.79" rx="8.5" ry="6.0" fill="#000000"/>
<line x1="1894.26" y1="1320.49" x2="1894.26" y2="1335.09" stroke="#101010" stroke-width="2.2" />
<ellipse cx="1886.20" cy="1230.69" rx="8.5" ry="6.0" fill="#000000"/>
<ellipse cx="1903.92" cy="1219.67" rx="8.5" ry="6.0" fill="#000000"/>
<line x1="1945.86" y1="1320.49" x2="1945.86" y2="1335.09" stroke="#101010" stroke-width="2.2" />
<ellipse cx="1946.46" cy="1203.52" rx="8.5" ry="6.0" fill="#000000"/>
<ellipse cx="1946.46" cy="1227.15" rx="8.5" ry="6.0" fill="#000000"/>
<line x1="2049.05" y1="1320.49" x2="2049.05" y2="1335.09" stroke="#101010" stroke-width="2.2" />
<ellipse cx="2049.65" cy="1220.85" rx="8.5" ry="6.0" fill="#000000"/>
<ellipse cx="2049.65" cy="1233.45" rx="8.5" ry="6.0" fill="#000000"/>
<text x="0" y="0" transform="translate(81.10,1201.50) rotate(-90) scale(0.945,1.0)" font-size="30" text-anchor="middle" fill="#3b3b3d" stroke="#3b3b3d" stroke-width="0.4">Live Count (e4)</text>
<rect x="180.20" y="1382.80" width="28.40" height="189.57" fill="url(#gG)" stroke="#000000" stroke-width="2.3"/>
<rect x="279.30" y="1382.80" width="28.40" height="189.57" fill="url(#gG)" stroke="#000000" stroke-width="2.3"/>
<rect x="330.94" y="1382.80" width="28.40" height="189.57" fill="url(#gG)" stroke="#000000" stroke-width="2.3"/>
<rect x="382.58" y="1382.80" width="28.40" height="189.57" fill="#d5636e" stroke="#000000" stroke-width="2.3"/>
<rect x="434.22" y="1382.80" width="28.40" height="189.57" fill="url(#gG)" stroke="#000000" stroke-width="2.3"/>
<rect x="485.86" y="1382.80" width="28.40" height="189.57" fill="url(#gG)" stroke="#000000" stroke-width="2.3"/>
<rect x="589.14" y="1382.80" width="28.40" height="189.57" fill="url(#gG)" stroke="#000000" stroke-width="2.3"/>
<rect x="640.78" y="1382.80" width="28.40" height="189.57" fill="url(#gB)" stroke="#000000" stroke-width="2.3"/>
<rect x="692.42" y="1382.80" width="28.40" height="189.57" fill="url(#gG)" stroke="#000000" stroke-width="2.3"/>
<rect x="744.06" y="1382.80" width="28.40" height="189.57" fill="url(#gG)" stroke="#000000" stroke-width="2.3"/>
<rect x="795.70" y="1382.80" width="28.40" height="189.57" fill="url(#gG)" stroke="#000000" stroke-width="2.3"/>
<rect x="847.34" y="1382.80" width="28.40" height="189.57" fill="url(#gG)" stroke="#000000" stroke-width="2.3"/>
<rect x="898.98" y="1382.80" width="28.40" height="189.57" fill="url(#gG)" stroke="#000000" stroke-width="2.3"/>
<rect x="950.62" y="1382.80" width="28.40" height="189.57" fill="url(#gG)" stroke="#000000" stroke-width="2.3"/>
<rect x="1002.26" y="1382.80" width="28.40" height="189.57" fill="url(#gG)" stroke="#000000" stroke-width="2.3"/>
<rect x="1053.90" y="1382.80" width="28.40" height="189.57" fill="url(#gG)" stroke="#000000" stroke-width="2.3"/>
<rect x="1157.18" y="1382.80" width="28.40" height="189.57" fill="url(#gG)" stroke="#000000" stroke-width="2.3"/>
<rect x="1208.82" y="1382.80" width="28.40" height="189.57" fill="url(#gG)" stroke="#000000" stroke-width="2.3"/>
<rect x="1260.46" y="1382.80" width="28.40" height="189.57" fill="url(#gG)" stroke="#000000" stroke-width="2.3"/>
<rect x="1312.10" y="1382.80" width="28.40" height="189.57" fill="url(#gY)" stroke="#000000" stroke-width="2.3"/>
<rect x="1363.74" y="1382.80" width="28.40" height="189.57" fill="url(#gG)" stroke="#000000" stroke-width="2.3"/>
<rect x="1415.38" y="1382.80" width="28.40" height="189.57" fill="url(#gG)" stroke="#000000" stroke-width="2.3"/>
<rect x="1467.02" y="1382.80" width="28.40" height="189.57" fill="url(#gG)" stroke="#000000" stroke-width="2.3"/>
<rect x="1518.66" y="1382.80" width="28.40" height="189.57" fill="url(#gG)" stroke="#000000" stroke-width="2.3"/>
<rect x="1570.30" y="1382.80" width="28.40" height="189.57" fill="url(#gG)" stroke="#000000" stroke-width="2.3"/>
<rect x="1621.94" y="1382.80" width="28.40" height="189.57" fill="url(#gG)" stroke="#000000" stroke-width="2.3"/>
<rect x="1725.22" y="1382.80" width="28.40" height="189.57" fill="url(#gG)" stroke="#000000" stroke-width="2.3"/>
<rect x="1776.86" y="1382.80" width="28.40" height="189.57" fill="url(#gG)" stroke="#000000" stroke-width="2.3"/>
<rect x="1828.50" y="1382.80" width="28.40" height="189.57" fill="url(#gG)" stroke="#000000" stroke-width="2.3"/>
<rect x="1880.14" y="1382.80" width="28.40" height="189.57" fill="url(#gG)" stroke="#000000" stroke-width="2.3"/>
<rect x="1931.78" y="1382.80" width="28.40" height="189.57" fill="url(#gG)" stroke="#000000" stroke-width="2.3"/>
<rect x="2035.06" y="1382.80" width="28.40" height="189.57" fill="url(#gG)" stroke="#000000" stroke-width="2.3"/>
<line x1="157.60" y1="1371.89" x2="157.60" y2="1573.27" stroke="#111" stroke-width="1.7" />
<line x1="139.50" y1="1572.57" x2="2084.50" y2="1572.57" stroke="#111" stroke-width="2.1" />
<line x1="139.60" y1="1572.37" x2="157.60" y2="1572.37" stroke="#111" stroke-width="2.0" />
<text x="121.70" y="1580.70" font-size="25" text-anchor="start" fill="#000" stroke="#000" stroke-width="0.4">0</text>
<line x1="139.60" y1="1532.44" x2="157.60" y2="1532.44" stroke="#111" stroke-width="2.0" />
<text x="107.70" y="1540.76" font-size="25" text-anchor="start" fill="#000" stroke="#000" stroke-width="0.4">20</text>
<line x1="139.60" y1="1492.50" x2="157.60" y2="1492.50" stroke="#111" stroke-width="2.0" />
<text x="107.70" y="1500.83" font-size="25" text-anchor="start" fill="#000" stroke="#000" stroke-width="0.4">40</text>
<line x1="139.60" y1="1452.56" x2="157.60" y2="1452.56" stroke="#111" stroke-width="2.0" />
<text x="107.70" y="1460.89" font-size="25" text-anchor="start" fill="#000" stroke="#000" stroke-width="0.4">60</text>
<line x1="139.60" y1="1412.63" x2="157.60" y2="1412.63" stroke="#111" stroke-width="2.0" />
<text x="107.70" y="1420.95" font-size="25" text-anchor="start" fill="#000" stroke="#000" stroke-width="0.4">80</text>
<line x1="139.60" y1="1372.69" x2="157.60" y2="1372.69" stroke="#111" stroke-width="2.0" />
<text x="93.95" y="1381.02" font-size="25" text-anchor="start" fill="#000" stroke="#000" stroke-width="0.4">100</text>
<line x1="194.00" y1="1572.37" x2="194.00" y2="1581.37" stroke="#222" stroke-width="1.4" />
<ellipse cx="185.40" cy="1381.60" rx="8.3" ry="4.2" fill="#000000"/>
<ellipse cx="203.40" cy="1380.30" rx="8.3" ry="4.2" fill="#000000"/>
<line x1="293.10" y1="1572.37" x2="293.10" y2="1581.37" stroke="#222" stroke-width="1.4" />
<ellipse cx="284.50" cy="1381.60" rx="8.3" ry="4.2" fill="#000000"/>
<ellipse cx="302.50" cy="1380.30" rx="8.3" ry="4.2" fill="#000000"/>
<line x1="344.74" y1="1572.37" x2="344.74" y2="1581.37" stroke="#222" stroke-width="1.4" />
<ellipse cx="336.14" cy="1381.60" rx="8.3" ry="4.2" fill="#000000"/>
<ellipse cx="354.14" cy="1380.30" rx="8.3" ry="4.2" fill="#000000"/>
<line x1="396.38" y1="1572.37" x2="396.38" y2="1581.37" stroke="#222" stroke-width="1.4" />
<ellipse cx="387.78" cy="1381.60" rx="8.3" ry="4.2" fill="#000000"/>
<ellipse cx="405.78" cy="1380.30" rx="8.3" ry="4.2" fill="#000000"/>
<line x1="448.02" y1="1572.37" x2="448.02" y2="1581.37" stroke="#222" stroke-width="1.4" />
<ellipse cx="439.42" cy="1381.60" rx="8.3" ry="4.2" fill="#000000"/>
<ellipse cx="457.42" cy="1380.30" rx="8.3" ry="4.2" fill="#000000"/>
<line x1="499.66" y1="1572.37" x2="499.66" y2="1581.37" stroke="#222" stroke-width="1.4" />
<ellipse cx="491.06" cy="1381.60" rx="8.3" ry="4.2" fill="#000000"/>
<ellipse cx="509.06" cy="1380.30" rx="8.3" ry="4.2" fill="#000000"/>
<line x1="602.94" y1="1572.37" x2="602.94" y2="1581.37" stroke="#222" stroke-width="1.4" />
<ellipse cx="594.34" cy="1381.60" rx="8.3" ry="4.2" fill="#000000"/>
<ellipse cx="612.34" cy="1380.30" rx="8.3" ry="4.2" fill="#000000"/>
<line x1="654.58" y1="1572.37" x2="654.58" y2="1581.37" stroke="#222" stroke-width="1.4" />
<ellipse cx="645.98" cy="1381.60" rx="8.3" ry="4.2" fill="#000000"/>
<ellipse cx="663.98" cy="1380.30" rx="8.3" ry="4.2" fill="#000000"/>
<line x1="706.22" y1="1572.37" x2="706.22" y2="1581.37" stroke="#222" stroke-width="1.4" />
<ellipse cx="697.62" cy="1381.60" rx="8.3" ry="4.2" fill="#000000"/>
<ellipse cx="715.62" cy="1380.30" rx="8.3" ry="4.2" fill="#000000"/>
<line x1="757.86" y1="1572.37" x2="757.86" y2="1581.37" stroke="#222" stroke-width="1.4" />
<ellipse cx="749.26" cy="1381.60" rx="8.3" ry="4.2" fill="#000000"/>
<ellipse cx="767.26" cy="1380.30" rx="8.3" ry="4.2" fill="#000000"/>
<line x1="809.50" y1="1572.37" x2="809.50" y2="1581.37" stroke="#222" stroke-width="1.4" />
<ellipse cx="800.90" cy="1381.60" rx="8.3" ry="4.2" fill="#000000"/>
<ellipse cx="818.90" cy="1380.30" rx="8.3" ry="4.2" fill="#000000"/>
<line x1="861.14" y1="1572.37" x2="861.14" y2="1581.37" stroke="#222" stroke-width="1.4" />
<ellipse cx="852.54" cy="1381.60" rx="8.3" ry="4.2" fill="#000000"/>
<ellipse cx="870.54" cy="1380.30" rx="8.3" ry="4.2" fill="#000000"/>
<line x1="912.78" y1="1572.37" x2="912.78" y2="1581.37" stroke="#222" stroke-width="1.4" />
<ellipse cx="904.18" cy="1381.60" rx="8.3" ry="4.2" fill="#000000"/>
<ellipse cx="922.18" cy="1380.30" rx="8.3" ry="4.2" fill="#000000"/>
<line x1="964.42" y1="1572.37" x2="964.42" y2="1581.37" stroke="#222" stroke-width="1.4" />
<ellipse cx="955.82" cy="1381.60" rx="8.3" ry="4.2" fill="#000000"/>
<ellipse cx="973.82" cy="1380.30" rx="8.3" ry="4.2" fill="#000000"/>
<line x1="1016.06" y1="1572.37" x2="1016.06" y2="1581.37" stroke="#222" stroke-width="1.4" />
<ellipse cx="1007.46" cy="1381.60" rx="8.3" ry="4.2" fill="#000000"/>
<ellipse cx="1025.46" cy="1380.30" rx="8.3" ry="4.2" fill="#000000"/>
<line x1="1067.70" y1="1572.37" x2="1067.70" y2="1581.37" stroke="#222" stroke-width="1.4" />
<ellipse cx="1059.10" cy="1381.60" rx="8.3" ry="4.2" fill="#000000"/>
<ellipse cx="1077.10" cy="1380.30" rx="8.3" ry="4.2" fill="#000000"/>
<line x1="1170.98" y1="1572.37" x2="1170.98" y2="1581.37" stroke="#222" stroke-width="1.4" />
<ellipse cx="1162.38" cy="1381.60" rx="8.3" ry="4.2" fill="#000000"/>
<ellipse cx="1180.38" cy="1380.30" rx="8.3" ry="4.2" fill="#000000"/>
<line x1="1222.62" y1="1572.37" x2="1222.62" y2="1581.37" stroke="#222" stroke-width="1.4" />
<ellipse cx="1214.02" cy="1381.60" rx="8.3" ry="4.2" fill="#000000"/>
<ellipse cx="1232.02" cy="1380.30" rx="8.3" ry="4.2" fill="#000000"/>
<line x1="1274.26" y1="1572.37" x2="1274.26" y2="1581.37" stroke="#222" stroke-width="1.4" />
<ellipse cx="1265.66" cy="1381.60" rx="8.3" ry="4.2" fill="#000000"/>
<ellipse cx="1283.66" cy="1380.30" rx="8.3" ry="4.2" fill="#000000"/>
<line x1="1325.90" y1="1572.37" x2="1325.90" y2="1581.37" stroke="#222" stroke-width="1.4" />
<ellipse cx="1317.30" cy="1381.60" rx="8.3" ry="4.2" fill="#000000"/>
<ellipse cx="1335.30" cy="1380.30" rx="8.3" ry="4.2" fill="#000000"/>
<line x1="1377.54" y1="1572.37" x2="1377.54" y2="1581.37" stroke="#222" stroke-width="1.4" />
<ellipse cx="1368.94" cy="1381.60" rx="8.3" ry="4.2" fill="#000000"/>
<ellipse cx="1386.94" cy="1380.30" rx="8.3" ry="4.2" fill="#000000"/>
<line x1="1429.18" y1="1572.37" x2="1429.18" y2="1581.37" stroke="#222" stroke-width="1.4" />
<ellipse cx="1420.58" cy="1381.60" rx="8.3" ry="4.2" fill="#000000"/>
<ellipse cx="1438.58" cy="1380.30" rx="8.3" ry="4.2" fill="#000000"/>
<line x1="1480.82" y1="1572.37" x2="1480.82" y2="1581.37" stroke="#222" stroke-width="1.4" />
<ellipse cx="1472.22" cy="1381.60" rx="8.3" ry="4.2" fill="#000000"/>
<ellipse cx="1490.22" cy="1380.30" rx="8.3" ry="4.2" fill="#000000"/>
<line x1="1532.46" y1="1572.37" x2="1532.46" y2="1581.37" stroke="#222" stroke-width="1.4" />
<ellipse cx="1523.86" cy="1381.60" rx="8.3" ry="4.2" fill="#000000"/>
<ellipse cx="1541.86" cy="1380.30" rx="8.3" ry="4.2" fill="#000000"/>
<line x1="1584.10" y1="1572.37" x2="1584.10" y2="1581.37" stroke="#222" stroke-width="1.4" />
<ellipse cx="1575.50" cy="1381.60" rx="8.3" ry="4.2" fill="#000000"/>
<ellipse cx="1593.50" cy="1380.30" rx="8.3" ry="4.2" fill="#000000"/>
<line x1="1635.74" y1="1572.37" x2="1635.74" y2="1581.37" stroke="#222" stroke-width="1.4" />
<ellipse cx="1627.14" cy="1381.60" rx="8.3" ry="4.2" fill="#000000"/>
<ellipse cx="1645.14" cy="1380.30" rx="8.3" ry="4.2" fill="#000000"/>
<line x1="1739.02" y1="1572.37" x2="1739.02" y2="1581.37" stroke="#222" stroke-width="1.4" />
<ellipse cx="1730.42" cy="1381.60" rx="8.3" ry="4.2" fill="#000000"/>
<ellipse cx="1748.42" cy="1380.30" rx="8.3" ry="4.2" fill="#000000"/>
<line x1="1790.66" y1="1572.37" x2="1790.66" y2="1581.37" stroke="#222" stroke-width="1.4" />
<ellipse cx="1782.06" cy="1381.60" rx="8.3" ry="4.2" fill="#000000"/>
<ellipse cx="1800.06" cy="1380.30" rx="8.3" ry="4.2" fill="#000000"/>
<line x1="1842.30" y1="1572.37" x2="1842.30" y2="1581.37" stroke="#222" stroke-width="1.4" />
<ellipse cx="1833.70" cy="1381.60" rx="8.3" ry="4.2" fill="#000000"/>
<ellipse cx="1851.70" cy="1380.30" rx="8.3" ry="4.2" fill="#000000"/>
<line x1="1893.94" y1="1572.37" x2="1893.94" y2="1581.37" stroke="#222" stroke-width="1.4" />
<ellipse cx="1885.34" cy="1381.60" rx="8.3" ry="4.2" fill="#000000"/>
<ellipse cx="1903.34" cy="1380.30" rx="8.3" ry="4.2" fill="#000000"/>
<line x1="1945.58" y1="1572.37" x2="1945.58" y2="1581.37" stroke="#222" stroke-width="1.4" />
<ellipse cx="1936.98" cy="1381.60" rx="8.3" ry="4.2" fill="#000000"/>
<ellipse cx="1954.98" cy="1380.30" rx="8.3" ry="4.2" fill="#000000"/>
<line x1="2048.86" y1="1572.37" x2="2048.86" y2="1581.37" stroke="#222" stroke-width="1.4" />
<ellipse cx="2040.26" cy="1381.60" rx="8.3" ry="4.2" fill="#000000"/>
<ellipse cx="2058.26" cy="1380.30" rx="8.3" ry="4.2" fill="#000000"/>
<text x="0" y="0" transform="translate(81.10,1468.50) rotate(-90) scale(0.947,1.0)" font-size="30" text-anchor="middle" fill="#3b3b3d" stroke="#3b3b3d" stroke-width="0.4">Viability (% Live)</text>
<text x="138.00" y="1620.10" font-size="28.8" text-anchor="end" fill="#3b3b3d" stroke="#3b3b3d" stroke-width="0.4">TSA</text>
<text x="191.80" y="1621.00" font-size="43" text-anchor="middle" fill="#3b3b3d" stroke="#3b3b3d" stroke-width="0.7">-</text>
<text x="290.70" y="1619.10" font-size="40" text-anchor="middle" fill="#3b3b3d" stroke="#3b3b3d" stroke-width="0.7">+</text>
<text x="342.70" y="1621.00" font-size="43" text-anchor="middle" fill="#3b3b3d" stroke="#3b3b3d" stroke-width="0.7">-</text>
<text x="395.00" y="1621.00" font-size="43" text-anchor="middle" fill="#3b3b3d" stroke="#3b3b3d" stroke-width="0.7">-</text>
<text x="447.00" y="1621.00" font-size="43" text-anchor="middle" fill="#3b3b3d" stroke="#3b3b3d" stroke-width="0.7">-</text>
<text x="499.40" y="1621.00" font-size="43" text-anchor="middle" fill="#3b3b3d" stroke="#3b3b3d" stroke-width="0.7">-</text>
<text x="602.60" y="1619.10" font-size="40" text-anchor="middle" fill="#3b3b3d" stroke="#3b3b3d" stroke-width="0.7">+</text>
<text x="654.20" y="1619.10" font-size="40" text-anchor="middle" fill="#3b3b3d" stroke="#3b3b3d" stroke-width="0.7">+</text>
<text x="706.30" y="1619.10" font-size="40" text-anchor="middle" fill="#3b3b3d" stroke="#3b3b3d" stroke-width="0.7">+</text>
<text x="757.60" y="1621.00" font-size="43" text-anchor="middle" fill="#3b3b3d" stroke="#3b3b3d" stroke-width="0.7">-</text>
<text x="809.60" y="1621.00" font-size="43" text-anchor="middle" fill="#3b3b3d" stroke="#3b3b3d" stroke-width="0.7">-</text>
<text x="860.80" y="1621.00" font-size="43" text-anchor="middle" fill="#3b3b3d" stroke="#3b3b3d" stroke-width="0.7">-</text>
<text x="912.80" y="1619.10" font-size="40" text-anchor="middle" fill="#3b3b3d" stroke="#3b3b3d" stroke-width="0.7">+</text>
<text x="964.40" y="1621.00" font-size="43" text-anchor="middle" fill="#3b3b3d" stroke="#3b3b3d" stroke-width="0.7">-</text>
<text x="1016.00" y="1621.00" font-size="43" text-anchor="middle" fill="#3b3b3d" stroke="#3b3b3d" stroke-width="0.7">-</text>
<text x="1068.00" y="1621.00" font-size="43" text-anchor="middle" fill="#3b3b3d" stroke="#3b3b3d" stroke-width="0.7">-</text>
<text x="1172.30" y="1619.10" font-size="40" text-anchor="middle" fill="#3b3b3d" stroke="#3b3b3d" stroke-width="0.7">+</text>
<text x="1225.50" y="1619.10" font-size="40" text-anchor="middle" fill="#3b3b3d" stroke="#3b3b3d" stroke-width="0.7">+</text>
<text x="1275.90" y="1619.10" font-size="40" text-anchor="middle" fill="#3b3b3d" stroke="#3b3b3d" stroke-width="0.7">+</text>
<text x="1329.00" y="1619.10" font-size="40" text-anchor="middle" fill="#3b3b3d" stroke="#3b3b3d" stroke-width="0.7">+</text>
<text x="1379.90" y="1619.10" font-size="40" text-anchor="middle" fill="#3b3b3d" stroke="#3b3b3d" stroke-width="0.7">+</text>
<text x="1433.30" y="1619.10" font-size="40" text-anchor="middle" fill="#3b3b3d" stroke="#3b3b3d" stroke-width="0.7">+</text>
<text x="1483.70" y="1621.00" font-size="43" text-anchor="middle" fill="#3b3b3d" stroke="#3b3b3d" stroke-width="0.7">-</text>
<text x="1536.80" y="1621.00" font-size="43" text-anchor="middle" fill="#3b3b3d" stroke="#3b3b3d" stroke-width="0.7">-</text>
<text x="1586.90" y="1621.00" font-size="43" text-anchor="middle" fill="#3b3b3d" stroke="#3b3b3d" stroke-width="0.7">-</text>
<text x="1638.10" y="1621.00" font-size="43" text-anchor="middle" fill="#3b3b3d" stroke="#3b3b3d" stroke-width="0.7">-</text>
<text x="1742.40" y="1619.10" font-size="40" text-anchor="middle" fill="#3b3b3d" stroke="#3b3b3d" stroke-width="0.7">+</text>
<text x="1794.40" y="1619.10" font-size="40" text-anchor="middle" fill="#3b3b3d" stroke="#3b3b3d" stroke-width="0.7">+</text>
<text x="1845.60" y="1619.10" font-size="40" text-anchor="middle" fill="#3b3b3d" stroke="#3b3b3d" stroke-width="0.7">+</text>
<text x="1893.70" y="1619.10" font-size="40" text-anchor="middle" fill="#3b3b3d" stroke="#3b3b3d" stroke-width="0.7">+</text>
<text x="1948.00" y="1621.00" font-size="43" text-anchor="middle" fill="#3b3b3d" stroke="#3b3b3d" stroke-width="0.7">-</text>
<text x="2051.60" y="1619.10" font-size="40" text-anchor="middle" fill="#3b3b3d" stroke="#3b3b3d" stroke-width="0.7">+</text>
<text x="138.00" y="1663.50" font-size="28.8" text-anchor="end" fill="#3b3b3d" stroke="#3b3b3d" stroke-width="0.4">NU7441</text>
<text x="191.80" y="1664.40" font-size="43" text-anchor="middle" fill="#3b3b3d" stroke="#3b3b3d" stroke-width="0.7">-</text>
<text x="290.70" y="1664.40" font-size="43" text-anchor="middle" fill="#3b3b3d" stroke="#3b3b3d" stroke-width="0.7">-</text>
<text x="342.70" y="1662.50" font-size="40" text-anchor="middle" fill="#3b3b3d" stroke="#3b3b3d" stroke-width="0.7">+</text>
<text x="395.00" y="1664.40" font-size="43" text-anchor="middle" fill="#3b3b3d" stroke="#3b3b3d" stroke-width="0.7">-</text>
<text x="447.00" y="1664.40" font-size="43" text-anchor="middle" fill="#3b3b3d" stroke="#3b3b3d" stroke-width="0.7">-</text>
<text x="499.40" y="1664.40" font-size="43" text-anchor="middle" fill="#3b3b3d" stroke="#3b3b3d" stroke-width="0.7">-</text>
<text x="602.60" y="1662.50" font-size="40" text-anchor="middle" fill="#3b3b3d" stroke="#3b3b3d" stroke-width="0.7">+</text>
<text x="654.20" y="1664.40" font-size="43" text-anchor="middle" fill="#3b3b3d" stroke="#3b3b3d" stroke-width="0.7">-</text>
<text x="706.30" y="1664.40" font-size="43" text-anchor="middle" fill="#3b3b3d" stroke="#3b3b3d" stroke-width="0.7">-</text>
<text x="757.60" y="1662.50" font-size="40" text-anchor="middle" fill="#3b3b3d" stroke="#3b3b3d" stroke-width="0.7">+</text>
<text x="809.60" y="1662.50" font-size="40" text-anchor="middle" fill="#3b3b3d" stroke="#3b3b3d" stroke-width="0.7">+</text>
<text x="860.80" y="1664.40" font-size="43" text-anchor="middle" fill="#3b3b3d" stroke="#3b3b3d" stroke-width="0.7">-</text>
<text x="912.80" y="1664.40" font-size="43" text-anchor="middle" fill="#3b3b3d" stroke="#3b3b3d" stroke-width="0.7">-</text>
<text x="964.40" y="1662.50" font-size="40" text-anchor="middle" fill="#3b3b3d" stroke="#3b3b3d" stroke-width="0.7">+</text>
<text x="1016.00" y="1664.40" font-size="43" text-anchor="middle" fill="#3b3b3d" stroke="#3b3b3d" stroke-width="0.7">-</text>
<text x="1068.00" y="1664.40" font-size="43" text-anchor="middle" fill="#3b3b3d" stroke="#3b3b3d" stroke-width="0.7">-</text>
<text x="1172.30" y="1662.50" font-size="40" text-anchor="middle" fill="#3b3b3d" stroke="#3b3b3d" stroke-width="0.7">+</text>
<text x="1225.50" y="1662.50" font-size="40" text-anchor="middle" fill="#3b3b3d" stroke="#3b3b3d" stroke-width="0.7">+</text>
<text x="1275.90" y="1662.50" font-size="40" text-anchor="middle" fill="#3b3b3d" stroke="#3b3b3d" stroke-width="0.7">+</text>
<text x="1329.00" y="1664.40" font-size="43" text-anchor="middle" fill="#3b3b3d" stroke="#3b3b3d" stroke-width="0.7">-</text>
<text x="1379.90" y="1664.40" font-size="43" text-anchor="middle" fill="#3b3b3d" stroke="#3b3b3d" stroke-width="0.7">-</text>
<text x="1433.30" y="1664.40" font-size="43" text-anchor="middle" fill="#3b3b3d" stroke="#3b3b3d" stroke-width="0.7">-</text>
<text x="1483.70" y="1662.50" font-size="40" text-anchor="middle" fill="#3b3b3d" stroke="#3b3b3d" stroke-width="0.7">+</text>
<text x="1536.80" y="1662.50" font-size="40" text-anchor="middle" fill="#3b3b3d" stroke="#3b3b3d" stroke-width="0.7">+</text>
<text x="1586.90" y="1662.50" font-size="40" text-anchor="middle" fill="#3b3b3d" stroke="#3b3b3d" stroke-width="0.7">+</text>
<text x="1638.10" y="1664.40" font-size="43" text-anchor="middle" fill="#3b3b3d" stroke="#3b3b3d" stroke-width="0.7">-</text>
<text x="1742.40" y="1662.50" font-size="40" text-anchor="middle" fill="#3b3b3d" stroke="#3b3b3d" stroke-width="0.7">+</text>
<text x="1794.40" y="1662.50" font-size="40" text-anchor="middle" fill="#3b3b3d" stroke="#3b3b3d" stroke-width="0.7">+</text>
<text x="1845.60" y="1662.50" font-size="40" text-anchor="middle" fill="#3b3b3d" stroke="#3b3b3d" stroke-width="0.7">+</text>
<text x="1893.70" y="1664.40" font-size="43" text-anchor="middle" fill="#3b3b3d" stroke="#3b3b3d" stroke-width="0.7">-</text>
<text x="1948.00" y="1662.50" font-size="40" text-anchor="middle" fill="#3b3b3d" stroke="#3b3b3d" stroke-width="0.7">+</text>
<text x="2051.60" y="1662.50" font-size="40" text-anchor="middle" fill="#3b3b3d" stroke="#3b3b3d" stroke-width="0.7">+</text>
<text x="138.00" y="1706.90" font-size="28.8" text-anchor="end" fill="#3b3b3d" stroke="#3b3b3d" stroke-width="0.4">M3814</text>
<text x="191.80" y="1707.80" font-size="43" text-anchor="middle" fill="#3b3b3d" stroke="#3b3b3d" stroke-width="0.7">-</text>
<text x="290.70" y="1707.80" font-size="43" text-anchor="middle" fill="#3b3b3d" stroke="#3b3b3d" stroke-width="0.7">-</text>
<text x="342.70" y="1707.80" font-size="43" text-anchor="middle" fill="#3b3b3d" stroke="#3b3b3d" stroke-width="0.7">-</text>
<text x="395.00" y="1705.90" font-size="40" text-anchor="middle" fill="#3b3b3d" stroke="#3b3b3d" stroke-width="0.7">+</text>
<text x="447.00" y="1707.80" font-size="43" text-anchor="middle" fill="#3b3b3d" stroke="#3b3b3d" stroke-width="0.7">-</text>
<text x="499.40" y="1707.80" font-size="43" text-anchor="middle" fill="#3b3b3d" stroke="#3b3b3d" stroke-width="0.7">-</text>
<text x="602.60" y="1707.80" font-size="43" text-anchor="middle" fill="#3b3b3d" stroke="#3b3b3d" stroke-width="0.7">-</text>
<text x="654.20" y="1705.90" font-size="40" text-anchor="middle" fill="#3b3b3d" stroke="#3b3b3d" stroke-width="0.7">+</text>
<text x="706.30" y="1707.80" font-size="43" text-anchor="middle" fill="#3b3b3d" stroke="#3b3b3d" stroke-width="0.7">-</text>
<text x="757.60" y="1705.90" font-size="40" text-anchor="middle" fill="#3b3b3d" stroke="#3b3b3d" stroke-width="0.7">+</text>
<text x="809.60" y="1707.80" font-size="43" text-anchor="middle" fill="#3b3b3d" stroke="#3b3b3d" stroke-width="0.7">-</text>
<text x="860.80" y="1705.90" font-size="40" text-anchor="middle" fill="#3b3b3d" stroke="#3b3b3d" stroke-width="0.7">+</text>
<text x="912.80" y="1707.80" font-size="43" text-anchor="middle" fill="#3b3b3d" stroke="#3b3b3d" stroke-width="0.7">-</text>
<text x="964.40" y="1707.80" font-size="43" text-anchor="middle" fill="#3b3b3d" stroke="#3b3b3d" stroke-width="0.7">-</text>
<text x="1016.00" y="1705.90" font-size="40" text-anchor="middle" fill="#3b3b3d" stroke="#3b3b3d" stroke-width="0.7">+</text>
<text x="1068.00" y="1707.80" font-size="43" text-anchor="middle" fill="#3b3b3d" stroke="#3b3b3d" stroke-width="0.7">-</text>
<text x="1172.30" y="1705.90" font-size="40" text-anchor="middle" fill="#3b3b3d" stroke="#3b3b3d" stroke-width="0.7">+</text>
<text x="1225.50" y="1707.80" font-size="43" text-anchor="middle" fill="#3b3b3d" stroke="#3b3b3d" stroke-width="0.7">-</text>
<text x="1275.90" y="1707.80" font-size="43" text-anchor="middle" fill="#3b3b3d" stroke="#3b3b3d" stroke-width="0.7">-</text>
<text x="1329.00" y="1705.90" font-size="40" text-anchor="middle" fill="#3b3b3d" stroke="#3b3b3d" stroke-width="0.7">+</text>
<text x="1379.90" y="1705.90" font-size="40" text-anchor="middle" fill="#3b3b3d" stroke="#3b3b3d" stroke-width="0.7">+</text>
<text x="1433.30" y="1707.80" font-size="43" text-anchor="middle" fill="#3b3b3d" stroke="#3b3b3d" stroke-width="0.7">-</text>
<text x="1483.70" y="1705.90" font-size="40" text-anchor="middle" fill="#3b3b3d" stroke="#3b3b3d" stroke-width="0.7">+</text>
<text x="1536.80" y="1705.90" font-size="40" text-anchor="middle" fill="#3b3b3d" stroke="#3b3b3d" stroke-width="0.7">+</text>
<text x="1586.90" y="1707.80" font-size="43" text-anchor="middle" fill="#3b3b3d" stroke="#3b3b3d" stroke-width="0.7">-</text>
<text x="1638.10" y="1705.90" font-size="40" text-anchor="middle" fill="#3b3b3d" stroke="#3b3b3d" stroke-width="0.7">+</text>
<text x="1742.40" y="1705.90" font-size="40" text-anchor="middle" fill="#3b3b3d" stroke="#3b3b3d" stroke-width="0.7">+</text>
<text x="1794.40" y="1705.90" font-size="40" text-anchor="middle" fill="#3b3b3d" stroke="#3b3b3d" stroke-width="0.7">+</text>
<text x="1845.60" y="1707.80" font-size="43" text-anchor="middle" fill="#3b3b3d" stroke="#3b3b3d" stroke-width="0.7">-</text>
<text x="1893.70" y="1705.90" font-size="40" text-anchor="middle" fill="#3b3b3d" stroke="#3b3b3d" stroke-width="0.7">+</text>
<text x="1948.00" y="1705.90" font-size="40" text-anchor="middle" fill="#3b3b3d" stroke="#3b3b3d" stroke-width="0.7">+</text>
<text x="2051.60" y="1705.90" font-size="40" text-anchor="middle" fill="#3b3b3d" stroke="#3b3b3d" stroke-width="0.7">+</text>
<text x="138.00" y="1750.40" font-size="28.8" text-anchor="end" fill="#3b3b3d" stroke="#3b3b3d" stroke-width="0.4">XL413</text>
<text x="191.80" y="1751.30" font-size="43" text-anchor="middle" fill="#3b3b3d" stroke="#3b3b3d" stroke-width="0.7">-</text>
<text x="290.70" y="1751.30" font-size="43" text-anchor="middle" fill="#3b3b3d" stroke="#3b3b3d" stroke-width="0.7">-</text>
<text x="342.70" y="1751.30" font-size="43" text-anchor="middle" fill="#3b3b3d" stroke="#3b3b3d" stroke-width="0.7">-</text>
<text x="395.00" y="1751.30" font-size="43" text-anchor="middle" fill="#3b3b3d" stroke="#3b3b3d" stroke-width="0.7">-</text>
<text x="447.00" y="1749.40" font-size="40" text-anchor="middle" fill="#3b3b3d" stroke="#3b3b3d" stroke-width="0.7">+</text>
<text x="499.40" y="1751.30" font-size="43" text-anchor="middle" fill="#3b3b3d" stroke="#3b3b3d" stroke-width="0.7">-</text>
<text x="602.60" y="1751.30" font-size="43" text-anchor="middle" fill="#3b3b3d" stroke="#3b3b3d" stroke-width="0.7">-</text>
<text x="654.20" y="1751.30" font-size="43" text-anchor="middle" fill="#3b3b3d" stroke="#3b3b3d" stroke-width="0.7">-</text>
<text x="706.30" y="1749.40" font-size="40" text-anchor="middle" fill="#3b3b3d" stroke="#3b3b3d" stroke-width="0.7">+</text>
<text x="757.60" y="1751.30" font-size="43" text-anchor="middle" fill="#3b3b3d" stroke="#3b3b3d" stroke-width="0.7">-</text>
<text x="809.60" y="1749.40" font-size="40" text-anchor="middle" fill="#3b3b3d" stroke="#3b3b3d" stroke-width="0.7">+</text>
<text x="860.80" y="1749.40" font-size="40" text-anchor="middle" fill="#3b3b3d" stroke="#3b3b3d" stroke-width="0.7">+</text>
<text x="912.80" y="1751.30" font-size="43" text-anchor="middle" fill="#3b3b3d" stroke="#3b3b3d" stroke-width="0.7">-</text>
<text x="964.40" y="1751.30" font-size="43" text-anchor="middle" fill="#3b3b3d" stroke="#3b3b3d" stroke-width="0.7">-</text>
<text x="1016.00" y="1751.30" font-size="43" text-anchor="middle" fill="#3b3b3d" stroke="#3b3b3d" stroke-width="0.7">-</text>
<text x="1068.00" y="1749.40" font-size="40" text-anchor="middle" fill="#3b3b3d" stroke="#3b3b3d" stroke-width="0.7">+</text>
<text x="1172.30" y="1751.30" font-size="43" text-anchor="middle" fill="#3b3b3d" stroke="#3b3b3d" stroke-width="0.7">-</text>
<text x="1225.50" y="1749.40" font-size="40" text-anchor="middle" fill="#3b3b3d" stroke="#3b3b3d" stroke-width="0.7">+</text>
<text x="1275.90" y="1751.30" font-size="43" text-anchor="middle" fill="#3b3b3d" stroke="#3b3b3d" stroke-width="0.7">-</text>
<text x="1329.00" y="1749.40" font-size="40" text-anchor="middle" fill="#3b3b3d" stroke="#3b3b3d" stroke-width="0.7">+</text>
<text x="1379.90" y="1751.30" font-size="43" text-anchor="middle" fill="#3b3b3d" stroke="#3b3b3d" stroke-width="0.7">-</text>
<text x="1433.30" y="1749.40" font-size="40" text-anchor="middle" fill="#3b3b3d" stroke="#3b3b3d" stroke-width="0.7">+</text>
<text x="1483.70" y="1749.40" font-size="40" text-anchor="middle" fill="#3b3b3d" stroke="#3b3b3d" stroke-width="0.7">+</text>
<text x="1536.80" y="1751.30" font-size="43" text-anchor="middle" fill="#3b3b3d" stroke="#3b3b3d" stroke-width="0.7">-</text>
<text x="1586.90" y="1749.40" font-size="40" text-anchor="middle" fill="#3b3b3d" stroke="#3b3b3d" stroke-width="0.7">+</text>
<text x="1638.10" y="1749.40" font-size="40" text-anchor="middle" fill="#3b3b3d" stroke="#3b3b3d" stroke-width="0.7">+</text>
<text x="1742.40" y="1749.40" font-size="40" text-anchor="middle" fill="#3b3b3d" stroke="#3b3b3d" stroke-width="0.7">+</text>
<text x="1794.40" y="1751.30" font-size="43" text-anchor="middle" fill="#3b3b3d" stroke="#3b3b3d" stroke-width="0.7">-</text>
<text x="1845.60" y="1749.40" font-size="40" text-anchor="middle" fill="#3b3b3d" stroke="#3b3b3d" stroke-width="0.7">+</text>
<text x="1893.70" y="1749.40" font-size="40" text-anchor="middle" fill="#3b3b3d" stroke="#3b3b3d" stroke-width="0.7">+</text>
<text x="1948.00" y="1749.40" font-size="40" text-anchor="middle" fill="#3b3b3d" stroke="#3b3b3d" stroke-width="0.7">+</text>
<text x="2051.60" y="1749.40" font-size="40" text-anchor="middle" fill="#3b3b3d" stroke="#3b3b3d" stroke-width="0.7">+</text>
<text x="138.00" y="1793.80" font-size="28.8" text-anchor="end" fill="#3b3b3d" stroke="#3b3b3d" stroke-width="0.4">HDR enh</text>
<text x="191.80" y="1794.70" font-size="43" text-anchor="middle" fill="#3b3b3d" stroke="#3b3b3d" stroke-width="0.7">-</text>
<text x="290.70" y="1794.70" font-size="43" text-anchor="middle" fill="#3b3b3d" stroke="#3b3b3d" stroke-width="0.7">-</text>
<text x="342.70" y="1794.70" font-size="43" text-anchor="middle" fill="#3b3b3d" stroke="#3b3b3d" stroke-width="0.7">-</text>
<text x="395.00" y="1794.70" font-size="43" text-anchor="middle" fill="#3b3b3d" stroke="#3b3b3d" stroke-width="0.7">-</text>
<text x="447.00" y="1794.70" font-size="43" text-anchor="middle" fill="#3b3b3d" stroke="#3b3b3d" stroke-width="0.7">-</text>
<text x="499.40" y="1792.80" font-size="40" text-anchor="middle" fill="#3b3b3d" stroke="#3b3b3d" stroke-width="0.7">+</text>
<text x="602.60" y="1794.70" font-size="43" text-anchor="middle" fill="#3b3b3d" stroke="#3b3b3d" stroke-width="0.7">-</text>
<text x="654.20" y="1794.70" font-size="43" text-anchor="middle" fill="#3b3b3d" stroke="#3b3b3d" stroke-width="0.7">-</text>
<text x="706.30" y="1794.70" font-size="43" text-anchor="middle" fill="#3b3b3d" stroke="#3b3b3d" stroke-width="0.7">-</text>
<text x="757.60" y="1794.70" font-size="43" text-anchor="middle" fill="#3b3b3d" stroke="#3b3b3d" stroke-width="0.7">-</text>
<text x="809.60" y="1794.70" font-size="43" text-anchor="middle" fill="#3b3b3d" stroke="#3b3b3d" stroke-width="0.7">-</text>
<text x="860.80" y="1794.70" font-size="43" text-anchor="middle" fill="#3b3b3d" stroke="#3b3b3d" stroke-width="0.7">-</text>
<text x="912.80" y="1792.80" font-size="40" text-anchor="middle" fill="#3b3b3d" stroke="#3b3b3d" stroke-width="0.7">+</text>
<text x="964.40" y="1792.80" font-size="40" text-anchor="middle" fill="#3b3b3d" stroke="#3b3b3d" stroke-width="0.7">+</text>
<text x="1016.00" y="1792.80" font-size="40" text-anchor="middle" fill="#3b3b3d" stroke="#3b3b3d" stroke-width="0.7">+</text>
<text x="1068.00" y="1792.80" font-size="40" text-anchor="middle" fill="#3b3b3d" stroke="#3b3b3d" stroke-width="0.7">+</text>
<text x="1172.30" y="1794.70" font-size="43" text-anchor="middle" fill="#3b3b3d" stroke="#3b3b3d" stroke-width="0.7">-</text>
<text x="1225.50" y="1794.70" font-size="43" text-anchor="middle" fill="#3b3b3d" stroke="#3b3b3d" stroke-width="0.7">-</text>
<text x="1275.90" y="1792.80" font-size="40" text-anchor="middle" fill="#3b3b3d" stroke="#3b3b3d" stroke-width="0.7">+</text>
<text x="1329.00" y="1794.70" font-size="43" text-anchor="middle" fill="#3b3b3d" stroke="#3b3b3d" stroke-width="0.7">-</text>
<text x="1379.90" y="1792.80" font-size="40" text-anchor="middle" fill="#3b3b3d" stroke="#3b3b3d" stroke-width="0.7">+</text>
<text x="1433.30" y="1792.80" font-size="40" text-anchor="middle" fill="#3b3b3d" stroke="#3b3b3d" stroke-width="0.7">+</text>
<text x="1483.70" y="1794.70" font-size="43" text-anchor="middle" fill="#3b3b3d" stroke="#3b3b3d" stroke-width="0.7">-</text>
<text x="1536.80" y="1792.80" font-size="40" text-anchor="middle" fill="#3b3b3d" stroke="#3b3b3d" stroke-width="0.7">+</text>
<text x="1586.90" y="1792.80" font-size="40" text-anchor="middle" fill="#3b3b3d" stroke="#3b3b3d" stroke-width="0.7">+</text>
<text x="1638.10" y="1792.80" font-size="40" text-anchor="middle" fill="#3b3b3d" stroke="#3b3b3d" stroke-width="0.7">+</text>
<text x="1742.40" y="1794.70" font-size="43" text-anchor="middle" fill="#3b3b3d" stroke="#3b3b3d" stroke-width="0.7">-</text>
<text x="1794.40" y="1792.80" font-size="40" text-anchor="middle" fill="#3b3b3d" stroke="#3b3b3d" stroke-width="0.7">+</text>
<text x="1845.60" y="1792.80" font-size="40" text-anchor="middle" fill="#3b3b3d" stroke="#3b3b3d" stroke-width="0.7">+</text>
<text x="1893.70" y="1792.80" font-size="40" text-anchor="middle" fill="#3b3b3d" stroke="#3b3b3d" stroke-width="0.7">+</text>
<text x="1948.00" y="1792.80" font-size="40" text-anchor="middle" fill="#3b3b3d" stroke="#3b3b3d" stroke-width="0.7">+</text>
<text x="2051.60" y="1792.80" font-size="40" text-anchor="middle" fill="#3b3b3d" stroke="#3b3b3d" stroke-width="0.7">+</text>
<polyline points="145.51,2016.25 188.73,2020.62 231.95,2023.91 275.16,2029.65 318.38,2026.64 361.60,2030.47 404.81,2049.07 448.03,2215.10" fill="none" stroke="#000" stroke-width="1.5" stroke-linejoin="round"/>
<circle cx="145.51" cy="2015.70" r="5.8" fill="#000000"/>
<circle cx="145.51" cy="2017.07" r="5.8" fill="#000000"/>
<circle cx="188.73" cy="2011.05" r="5.8" fill="#000000"/>
<circle cx="188.73" cy="2030.47" r="5.8" fill="#000000"/>
<circle cx="231.95" cy="2020.90" r="5.8" fill="#000000"/>
<circle cx="231.95" cy="2027.19" r="5.8" fill="#000000"/>
<circle cx="275.16" cy="2022.26" r="5.8" fill="#000000"/>
<circle cx="275.16" cy="2037.31" r="5.8" fill="#000000"/>
<circle cx="318.38" cy="2015.97" r="5.8" fill="#000000"/>
<circle cx="318.38" cy="2037.31" r="5.8" fill="#000000"/>
<circle cx="361.60" cy="2012.96" r="5.8" fill="#000000"/>
<circle cx="361.60" cy="2047.98" r="5.8" fill="#000000"/>
<circle cx="404.81" cy="2022.81" r="5.8" fill="#000000"/>
<circle cx="404.81" cy="2075.88" r="5.8" fill="#000000"/>
<circle cx="448.03" cy="2204.43" r="5.8" fill="#000000"/>
<circle cx="448.03" cy="2225.77" r="5.8" fill="#000000"/>
<line x1="124.45" y1="1943.78" x2="124.45" y2="2234.50" stroke="#000000" stroke-width="2.7" />
<line x1="112.14" y1="2233.15" x2="470.46" y2="2233.15" stroke="#000000" stroke-width="2.7" />
<line x1="111.95" y1="2233.15" x2="124.45" y2="2233.15" stroke="#000000" stroke-width="2.2" />
<text x="0" y="0" transform="translate(97.47,2240.35) scale(1.05,1.0)" font-size="20.2" text-anchor="start" fill="#000000" stroke="#000000" stroke-width="0.4">0</text>
<line x1="111.95" y1="2175.71" x2="124.45" y2="2175.71" stroke="#000000" stroke-width="2.2" />
<text x="0" y="0" transform="translate(95.04,2182.91) scale(1.05,1.0)" font-size="20.2" text-anchor="start" fill="#000000" stroke="#000000" stroke-width="0.4">2</text>
<line x1="111.95" y1="2118.27" x2="124.45" y2="2118.27" stroke="#000000" stroke-width="2.2" />
<text x="0" y="0" transform="translate(94.51,2125.47) scale(1.05,1.0)" font-size="20.2" text-anchor="start" fill="#000000" stroke="#000000" stroke-width="0.4">4</text>
<line x1="111.95" y1="2060.83" x2="124.45" y2="2060.83" stroke="#000000" stroke-width="2.2" />
<text x="0" y="0" transform="translate(94.77,2068.03) scale(1.05,1.0)" font-size="20.2" text-anchor="start" fill="#000000" stroke="#000000" stroke-width="0.4">6</text>
<line x1="111.95" y1="2003.39" x2="124.45" y2="2003.39" stroke="#000000" stroke-width="2.2" />
<text x="0" y="0" transform="translate(94.77,2010.59) scale(1.05,1.0)" font-size="20.2" text-anchor="start" fill="#000000" stroke="#000000" stroke-width="0.4">8</text>
<line x1="111.95" y1="1945.13" x2="124.45" y2="1945.13" stroke="#000000" stroke-width="2.2" />
<text x="0" y="0" transform="translate(80.96,1952.33) scale(1.05,1.0)" font-size="20.2" text-anchor="start" fill="#000000" stroke="#000000" stroke-width="0.4">10</text>
<line x1="145.51" y1="2233.15" x2="145.51" y2="2245.65" stroke="#000000" stroke-width="2.4" />
<text x="0" y="0" transform="translate(145.51,2268.20) scale(1.05,1.0)" font-size="20.2" text-anchor="middle" fill="#000000" stroke="#000000" stroke-width="0.4">0</text>
<line x1="188.73" y1="2233.15" x2="188.73" y2="2245.65" stroke="#000000" stroke-width="2.4" />
<text x="0" y="0" transform="translate(188.73,2268.20) scale(1.05,1.0)" font-size="20.2" text-anchor="middle" fill="#000000" stroke="#000000" stroke-width="0.4">5</text>
<line x1="231.95" y1="2233.15" x2="231.95" y2="2245.65" stroke="#000000" stroke-width="2.4" />
<text x="0" y="0" transform="translate(231.95,2268.20) scale(1.05,1.0)" font-size="20.2" text-anchor="middle" fill="#000000" stroke="#000000" stroke-width="0.4">10</text>
<line x1="275.16" y1="2233.15" x2="275.16" y2="2245.65" stroke="#000000" stroke-width="2.4" />
<text x="0" y="0" transform="translate(275.16,2268.20) scale(1.05,1.0)" font-size="20.2" text-anchor="middle" fill="#000000" stroke="#000000" stroke-width="0.4">20</text>
<line x1="318.38" y1="2233.15" x2="318.38" y2="2245.65" stroke="#000000" stroke-width="2.4" />
<text x="0" y="0" transform="translate(318.38,2268.20) scale(1.05,1.0)" font-size="20.2" text-anchor="middle" fill="#000000" stroke="#000000" stroke-width="0.4">50</text>
<line x1="361.60" y1="2233.15" x2="361.60" y2="2245.65" stroke="#000000" stroke-width="2.4" />
<text x="0" y="0" transform="translate(361.60,2268.20) scale(1.05,1.0)" font-size="20.2" text-anchor="middle" fill="#000000" stroke="#000000" stroke-width="0.4">100</text>
<line x1="404.81" y1="2233.15" x2="404.81" y2="2245.65" stroke="#000000" stroke-width="2.4" />
<text x="0" y="0" transform="translate(404.81,2268.20) scale(1.05,1.0)" font-size="20.2" text-anchor="middle" fill="#000000" stroke="#000000" stroke-width="0.4">200</text>
<line x1="448.03" y1="2233.15" x2="448.03" y2="2245.65" stroke="#000000" stroke-width="2.4" />
<text x="0" y="0" transform="translate(448.03,2268.20) scale(1.05,1.0)" font-size="20.2" text-anchor="middle" fill="#000000" stroke="#000000" stroke-width="0.4">500</text>
<text x="0" y="0" transform="translate(68.10,2082.40) rotate(-90) scale(0.916,1.0)" font-size="31" text-anchor="middle" fill="#3b3b3d" stroke="#3b3b3d" stroke-width="0.4">Live Counts (e4)</text>
<text x="0" y="0" transform="translate(284.74,2315.50) scale(0.963,1.0)" font-size="29.5" text-anchor="middle" fill="#3b3b3d" stroke="#3b3b3d" stroke-width="0.4">Novobiocin (uM)</text>
<polyline points="606.61,1980.96 649.55,1982.33 692.77,1978.23 735.71,1982.60 778.65,1993.82 821.87,1987.25 864.81,2006.67 909.95,2075.05" fill="none" stroke="#000" stroke-width="1.5" stroke-linejoin="round"/>
<circle cx="606.61" cy="1968.11" r="5.8" fill="#000000"/>
<circle cx="606.61" cy="1994.64" r="5.8" fill="#000000"/>
<circle cx="649.55" cy="1967.83" r="5.8" fill="#000000"/>
<circle cx="649.55" cy="1996.83" r="5.8" fill="#000000"/>
<circle cx="692.77" cy="1951.15" r="5.8" fill="#000000"/>
<circle cx="692.77" cy="2005.85" r="5.8" fill="#000000"/>
<circle cx="735.71" cy="1964.55" r="5.8" fill="#000000"/>
<circle cx="735.71" cy="2001.48" r="5.8" fill="#000000"/>
<circle cx="778.65" cy="1973.85" r="5.8" fill="#000000"/>
<circle cx="778.65" cy="2013.24" r="5.8" fill="#000000"/>
<circle cx="821.87" cy="1966.19" r="5.8" fill="#000000"/>
<circle cx="821.87" cy="2008.86" r="5.8" fill="#000000"/>
<circle cx="864.81" cy="2005.58" r="5.8" fill="#000000"/>
<circle cx="864.81" cy="2007.22" r="5.8" fill="#000000"/>
<circle cx="910.77" cy="2072.05" r="5.8" fill="#000000"/>
<circle cx="910.77" cy="2077.24" r="5.8" fill="#000000"/>
<line x1="585.27" y1="1942.96" x2="585.27" y2="2234.23" stroke="#000000" stroke-width="2.7" />
<line x1="573.51" y1="2232.88" x2="931.01" y2="2232.88" stroke="#000000" stroke-width="2.7" />
<line x1="572.77" y1="2232.88" x2="585.27" y2="2232.88" stroke="#000000" stroke-width="2.2" />
<text x="0" y="0" transform="translate(558.38,2240.08) scale(1.05,1.0)" font-size="20.2" text-anchor="start" fill="#000000" stroke="#000000" stroke-width="0.4">0</text>
<line x1="572.77" y1="2136.87" x2="585.27" y2="2136.87" stroke="#000000" stroke-width="2.2" />
<text x="0" y="0" transform="translate(545.76,2144.07) scale(1.05,1.0)" font-size="20.2" text-anchor="start" fill="#000000" stroke="#000000" stroke-width="0.4">10</text>
<line x1="572.77" y1="2040.59" x2="585.27" y2="2040.59" stroke="#000000" stroke-width="2.2" />
<text x="0" y="0" transform="translate(545.76,2047.79) scale(1.05,1.0)" font-size="20.2" text-anchor="start" fill="#000000" stroke="#000000" stroke-width="0.4">20</text>
<line x1="572.77" y1="1944.31" x2="585.27" y2="1944.31" stroke="#000000" stroke-width="2.2" />
<text x="0" y="0" transform="translate(545.76,1951.51) scale(1.05,1.0)" font-size="20.2" text-anchor="start" fill="#000000" stroke="#000000" stroke-width="0.4">30</text>
<line x1="606.61" y1="2232.88" x2="606.61" y2="2245.38" stroke="#000000" stroke-width="2.4" />
<text x="0" y="0" transform="translate(606.61,2267.20) scale(1.05,1.0)" font-size="20.2" text-anchor="middle" fill="#000000" stroke="#000000" stroke-width="0.4">0</text>
<line x1="649.55" y1="2232.88" x2="649.55" y2="2245.38" stroke="#000000" stroke-width="2.4" />
<text x="0" y="0" transform="translate(649.55,2267.20) scale(1.05,1.0)" font-size="20.2" text-anchor="middle" fill="#000000" stroke="#000000" stroke-width="0.4">5</text>
<line x1="692.77" y1="2232.88" x2="692.77" y2="2245.38" stroke="#000000" stroke-width="2.4" />
<text x="0" y="0" transform="translate(692.77,2267.20) scale(1.05,1.0)" font-size="20.2" text-anchor="middle" fill="#000000" stroke="#000000" stroke-width="0.4">10</text>
<line x1="735.71" y1="2232.88" x2="735.71" y2="2245.38" stroke="#000000" stroke-width="2.4" />
<text x="0" y="0" transform="translate(735.71,2267.20) scale(1.05,1.0)" font-size="20.2" text-anchor="middle" fill="#000000" stroke="#000000" stroke-width="0.4">20</text>
<line x1="778.65" y1="2232.88" x2="778.65" y2="2245.38" stroke="#000000" stroke-width="2.4" />
<text x="0" y="0" transform="translate(778.65,2267.20) scale(1.05,1.0)" font-size="20.2" text-anchor="middle" fill="#000000" stroke="#000000" stroke-width="0.4">50</text>
<line x1="821.87" y1="2232.88" x2="821.87" y2="2245.38" stroke="#000000" stroke-width="2.4" />
<text x="0" y="0" transform="translate(821.87,2267.20) scale(1.05,1.0)" font-size="20.2" text-anchor="middle" fill="#000000" stroke="#000000" stroke-width="0.4">100</text>
<line x1="864.81" y1="2232.88" x2="864.81" y2="2245.38" stroke="#000000" stroke-width="2.4" />
<text x="0" y="0" transform="translate(864.81,2267.20) scale(1.05,1.0)" font-size="20.2" text-anchor="middle" fill="#000000" stroke="#000000" stroke-width="0.4">200</text>
<line x1="908.03" y1="2232.88" x2="908.03" y2="2245.38" stroke="#000000" stroke-width="2.4" />
<text x="0" y="0" transform="translate(908.03,2267.20) scale(1.05,1.0)" font-size="20.2" text-anchor="middle" fill="#000000" stroke="#000000" stroke-width="0.4">500</text>
<text x="0" y="0" transform="translate(532.80,2090.00) rotate(-90) scale(0.916,1.0)" font-size="31" text-anchor="middle" fill="#3b3b3d" stroke="#3b3b3d" stroke-width="0.4">%Knockin(CD5+HA+)</text>
<text x="0" y="0" transform="translate(772.64,2314.50) scale(0.963,1.0)" font-size="29.5" text-anchor="middle" fill="#3b3b3d" stroke="#3b3b3d" stroke-width="0.4">Novobiocin (uM)</text>
<rect x="1084.45" y="2121.20" width="19.60" height="116.84" fill="#adadaf" stroke="#2e2e2e" stroke-width="1.1"/>
<rect x="1129.74" y="2114.31" width="19.60" height="123.73" fill="url(#pP)" stroke="#2e2e2e" stroke-width="1.1"/>
<rect x="1152.39" y="2046.70" width="19.60" height="191.34" fill="#e5949b" stroke="#2e2e2e" stroke-width="1.1"/>
<rect x="1174.70" y="2027.67" width="19.60" height="210.37" fill="url(#eB)" stroke="#2e2e2e" stroke-width="1.1"/>
<rect x="1197.02" y="2000.10" width="19.60" height="237.94" fill="url(#eY)" stroke="#2e2e2e" stroke-width="1.1"/>
<rect x="1241.98" y="2112.67" width="19.60" height="125.37" fill="url(#pP)" stroke="#2e2e2e" stroke-width="1.1"/>
<rect x="1264.46" y="2041.45" width="19.60" height="196.59" fill="#e5949b" stroke="#2e2e2e" stroke-width="1.1"/>
<rect x="1286.94" y="2024.38" width="19.60" height="213.65" fill="url(#eB)" stroke="#2e2e2e" stroke-width="1.1"/>
<rect x="1309.43" y="1974.83" width="19.60" height="263.21" fill="url(#eY)" stroke="#2e2e2e" stroke-width="1.1"/>
<rect x="1354.39" y="2114.64" width="19.60" height="123.40" fill="url(#pP)" stroke="#2e2e2e" stroke-width="1.1"/>
<rect x="1376.70" y="2041.78" width="19.60" height="196.26" fill="#e5949b" stroke="#2e2e2e" stroke-width="1.1"/>
<rect x="1399.19" y="2028.65" width="19.60" height="209.39" fill="url(#eB)" stroke="#2e2e2e" stroke-width="1.1"/>
<rect x="1421.67" y="1978.77" width="19.60" height="259.27" fill="url(#eY)" stroke="#2e2e2e" stroke-width="1.1"/>
<rect x="1466.63" y="2120.22" width="19.60" height="117.82" fill="url(#pP)" stroke="#2e2e2e" stroke-width="1.1"/>
<rect x="1489.27" y="2051.30" width="19.60" height="186.74" fill="#e5949b" stroke="#2e2e2e" stroke-width="1.1"/>
<rect x="1511.79" y="2041.78" width="19.60" height="196.26" fill="url(#eB)" stroke="#2e2e2e" stroke-width="1.1"/>
<rect x="1534.11" y="2005.35" width="19.60" height="232.69" fill="url(#eY)" stroke="#2e2e2e" stroke-width="1.1"/>
<rect x="1579.40" y="2116.61" width="19.60" height="121.43" fill="url(#pP)" stroke="#2e2e2e" stroke-width="1.1"/>
<rect x="1601.71" y="2046.05" width="19.60" height="191.99" fill="#e5949b" stroke="#2e2e2e" stroke-width="1.1"/>
<rect x="1624.19" y="2035.54" width="19.60" height="202.49" fill="url(#eB)" stroke="#2e2e2e" stroke-width="1.1"/>
<rect x="1646.68" y="2015.52" width="19.60" height="222.51" fill="url(#eY)" stroke="#2e2e2e" stroke-width="1.1"/>
<rect x="1691.64" y="2125.80" width="19.60" height="112.24" fill="url(#pP)" stroke="#2e2e2e" stroke-width="1.1"/>
<rect x="1714.12" y="2082.47" width="19.60" height="155.56" fill="#e5949b" stroke="#2e2e2e" stroke-width="1.1"/>
<rect x="1736.76" y="2084.44" width="19.60" height="153.59" fill="url(#eB)" stroke="#2e2e2e" stroke-width="1.1"/>
<rect x="1758.92" y="2025.70" width="19.60" height="212.34" fill="url(#eY)" stroke="#2e2e2e" stroke-width="1.1"/>
<rect x="1804.04" y="2161.57" width="19.60" height="76.47" fill="url(#pP)" stroke="#2e2e2e" stroke-width="1.1"/>
<rect x="1826.52" y="2090.68" width="19.60" height="147.36" fill="#e5949b" stroke="#2e2e2e" stroke-width="1.1"/>
<rect x="1849.17" y="2109.06" width="19.60" height="128.98" fill="url(#eB)" stroke="#2e2e2e" stroke-width="1.1"/>
<rect x="1871.82" y="2032.92" width="19.60" height="205.12" fill="url(#eY)" stroke="#2e2e2e" stroke-width="1.1"/>
<circle cx="1094.25" cy="2110.70" r="5.8" fill="#5a5a5a" fill-opacity="0.85"/>
<circle cx="1094.25" cy="2128.42" r="5.8" fill="#5a5a5a" fill-opacity="0.85"/>
<circle cx="1139.54" cy="2105.78" r="5.8" fill="#b39ddb" fill-opacity="0.85"/>
<circle cx="1139.54" cy="2120.22" r="5.8" fill="#b39ddb" fill-opacity="0.85"/>
<circle cx="1161.53" cy="2020.12" r="5.8" fill="#d6505c" fill-opacity="0.85"/>
<circle cx="1161.53" cy="2070.66" r="5.8" fill="#d6505c" fill-opacity="0.85"/>
<circle cx="1183.52" cy="2002.40" r="5.8" fill="#7fccd6" fill-opacity="0.85"/>
<circle cx="1183.52" cy="2050.31" r="5.8" fill="#7fccd6" fill-opacity="0.85"/>
<circle cx="1206.49" cy="1989.92" r="5.8" fill="#f9a978" fill-opacity="0.85"/>
<circle cx="1206.49" cy="2006.99" r="5.8" fill="#f9a978" fill-opacity="0.85"/>
<circle cx="1251.45" cy="2097.24" r="5.8" fill="#b39ddb" fill-opacity="0.85"/>
<circle cx="1251.45" cy="2124.81" r="5.8" fill="#b39ddb" fill-opacity="0.85"/>
<circle cx="1273.77" cy="2000.10" r="5.8" fill="#d6505c" fill-opacity="0.85"/>
<circle cx="1273.77" cy="2079.52" r="5.8" fill="#d6505c" fill-opacity="0.85"/>
<circle cx="1296.42" cy="1993.21" r="5.8" fill="#7fccd6" fill-opacity="0.85"/>
<circle cx="1296.42" cy="2052.94" r="5.8" fill="#7fccd6" fill-opacity="0.85"/>
<circle cx="1318.73" cy="1951.53" r="5.8" fill="#f9a978" fill-opacity="0.85"/>
<circle cx="1318.73" cy="1995.50" r="5.8" fill="#f9a978" fill-opacity="0.85"/>
<circle cx="1364.02" cy="2103.81" r="5.8" fill="#b39ddb" fill-opacity="0.85"/>
<circle cx="1364.02" cy="2122.51" r="5.8" fill="#b39ddb" fill-opacity="0.85"/>
<circle cx="1386.01" cy="2006.33" r="5.8" fill="#d6505c" fill-opacity="0.85"/>
<circle cx="1386.01" cy="2074.93" r="5.8" fill="#d6505c" fill-opacity="0.85"/>
<circle cx="1408.66" cy="1999.44" r="5.8" fill="#7fccd6" fill-opacity="0.85"/>
<circle cx="1408.66" cy="2055.23" r="5.8" fill="#7fccd6" fill-opacity="0.85"/>
<circle cx="1431.30" cy="1950.21" r="5.8" fill="#f9a978" fill-opacity="0.85"/>
<circle cx="1431.30" cy="2004.04" r="5.8" fill="#f9a978" fill-opacity="0.85"/>
<circle cx="1476.27" cy="2108.40" r="5.8" fill="#b39ddb" fill-opacity="0.85"/>
<circle cx="1476.27" cy="2128.09" r="5.8" fill="#b39ddb" fill-opacity="0.85"/>
<circle cx="1498.58" cy="2028.65" r="5.8" fill="#d6505c" fill-opacity="0.85"/>
<circle cx="1498.58" cy="2070.99" r="5.8" fill="#d6505c" fill-opacity="0.85"/>
<circle cx="1521.43" cy="2024.06" r="5.8" fill="#7fccd6" fill-opacity="0.85"/>
<circle cx="1521.43" cy="2056.88" r="5.8" fill="#7fccd6" fill-opacity="0.85"/>
<circle cx="1543.74" cy="1989.27" r="5.8" fill="#f9a978" fill-opacity="0.85"/>
<circle cx="1543.74" cy="2018.15" r="5.8" fill="#f9a978" fill-opacity="0.85"/>
<circle cx="1588.70" cy="2104.79" r="5.8" fill="#b39ddb" fill-opacity="0.85"/>
<circle cx="1588.70" cy="2125.80" r="5.8" fill="#b39ddb" fill-opacity="0.85"/>
<circle cx="1611.02" cy="2024.71" r="5.8" fill="#d6505c" fill-opacity="0.85"/>
<circle cx="1611.02" cy="2064.10" r="5.8" fill="#d6505c" fill-opacity="0.85"/>
<circle cx="1633.34" cy="2019.46" r="5.8" fill="#7fccd6" fill-opacity="0.85"/>
<circle cx="1633.34" cy="2047.69" r="5.8" fill="#7fccd6" fill-opacity="0.85"/>
<circle cx="1655.98" cy="2006.99" r="5.8" fill="#f9a978" fill-opacity="0.85"/>
<circle cx="1655.98" cy="2021.76" r="5.8" fill="#f9a978" fill-opacity="0.85"/>
<circle cx="1695.69" cy="2125.14" r="5.8" fill="#b39ddb" fill-opacity="0.85"/>
<circle cx="1706.53" cy="2124.81" r="5.8" fill="#b39ddb" fill-opacity="0.85"/>
<circle cx="1723.59" cy="2064.42" r="5.8" fill="#d6505c" fill-opacity="0.85"/>
<circle cx="1723.59" cy="2097.90" r="5.8" fill="#d6505c" fill-opacity="0.85"/>
<circle cx="1746.24" cy="2070.66" r="5.8" fill="#7fccd6" fill-opacity="0.85"/>
<circle cx="1746.24" cy="2094.95" r="5.8" fill="#7fccd6" fill-opacity="0.85"/>
<circle cx="1768.23" cy="2001.74" r="5.8" fill="#f9a978" fill-opacity="0.85"/>
<circle cx="1768.23" cy="2048.01" r="5.8" fill="#f9a978" fill-opacity="0.85"/>
<circle cx="1808.26" cy="2161.24" r="5.8" fill="#b39ddb" fill-opacity="0.85"/>
<circle cx="1819.09" cy="2158.29" r="5.8" fill="#b39ddb" fill-opacity="0.85"/>
<circle cx="1835.83" cy="2050.31" r="5.8" fill="#d6505c" fill-opacity="0.85"/>
<circle cx="1835.83" cy="2128.75" r="5.8" fill="#d6505c" fill-opacity="0.85"/>
<circle cx="1858.15" cy="2049.66" r="5.8" fill="#7fccd6" fill-opacity="0.85"/>
<circle cx="1858.15" cy="2165.84" r="5.8" fill="#7fccd6" fill-opacity="0.85"/>
<circle cx="1881.12" cy="1963.34" r="5.8" fill="#f9a978" fill-opacity="0.85"/>
<circle cx="1881.12" cy="2099.21" r="5.8" fill="#f9a978" fill-opacity="0.85"/>
<line x1="1071.93" y1="2119.56" x2="1903.11" y2="2119.56" stroke="#a8a8aa" stroke-width="1.1" stroke-dasharray="7 5"/>
<line x1="1071.93" y1="1948.09" x2="1071.93" y2="2240.04" stroke="#000000" stroke-width="4" />
<line x1="1058.81" y1="2238.04" x2="1905.41" y2="2238.04" stroke="#000000" stroke-width="4" />
<line x1="1058.81" y1="2238.04" x2="1071.93" y2="2238.04" stroke="#000000" stroke-width="3.6" />
<text x="1055.52" y="2246.74" font-size="22" text-anchor="end" fill="#000000" font-weight="bold" >0</text>
<line x1="1058.81" y1="2142.21" x2="1071.93" y2="2142.21" stroke="#000000" stroke-width="3.6" />
<text x="1055.52" y="2150.91" font-size="22" text-anchor="end" fill="#000000" font-weight="bold" >20</text>
<line x1="1058.81" y1="2046.05" x2="1071.93" y2="2046.05" stroke="#000000" stroke-width="3.6" />
<text x="1055.52" y="2054.75" font-size="22" text-anchor="end" fill="#000000" font-weight="bold" >40</text>
<line x1="1058.81" y1="1949.89" x2="1071.93" y2="1949.89" stroke="#000000" stroke-width="3.6" />
<text x="1055.52" y="1958.59" font-size="22" text-anchor="end" fill="#000000" font-weight="bold" >60</text>
<line x1="1093.59" y1="2238.04" x2="1093.59" y2="2251.04" stroke="#000000" stroke-width="3.6" />
<text x="1093.59" y="2274.00" font-size="22" text-anchor="middle" fill="#000000" stroke="#000000" stroke-width="0.4">0</text>
<line x1="1172.36" y1="2238.04" x2="1172.36" y2="2251.04" stroke="#000000" stroke-width="3.6" />
<text x="1172.36" y="2274.00" font-size="22" text-anchor="middle" fill="#000000" stroke="#000000" stroke-width="0.4">5</text>
<line x1="1284.60" y1="2238.04" x2="1284.60" y2="2251.04" stroke="#000000" stroke-width="3.6" />
<text x="1284.60" y="2274.00" font-size="22" text-anchor="middle" fill="#000000" stroke="#000000" stroke-width="0.4">10</text>
<line x1="1397.83" y1="2238.04" x2="1397.83" y2="2251.04" stroke="#000000" stroke-width="3.6" />
<text x="1397.83" y="2274.00" font-size="22" text-anchor="middle" fill="#000000" stroke="#000000" stroke-width="0.4">20</text>
<line x1="1510.07" y1="2238.04" x2="1510.07" y2="2251.04" stroke="#000000" stroke-width="3.6" />
<text x="1510.07" y="2274.00" font-size="22" text-anchor="middle" fill="#000000" stroke="#000000" stroke-width="0.4">50</text>
<line x1="1621.85" y1="2238.04" x2="1621.85" y2="2251.04" stroke="#000000" stroke-width="3.6" />
<text x="1621.85" y="2274.00" font-size="22" text-anchor="middle" fill="#000000" stroke="#000000" stroke-width="0.4">100</text>
<line x1="1734.42" y1="2238.04" x2="1734.42" y2="2251.04" stroke="#000000" stroke-width="3.6" />
<text x="1734.42" y="2274.00" font-size="22" text-anchor="middle" fill="#000000" stroke="#000000" stroke-width="0.4">200</text>
<line x1="1846.66" y1="2238.04" x2="1846.66" y2="2251.04" stroke="#000000" stroke-width="3.6" />
<text x="1846.66" y="2274.00" font-size="22" text-anchor="middle" fill="#000000" stroke="#000000" stroke-width="0.4">500</text>
<text x="0" y="0" transform="translate(1014.40,2097.00) rotate(-90) scale(0.887,1.0)" font-size="32" text-anchor="middle" fill="#3b3b3d" stroke="#3b3b3d" stroke-width="0.4">%Knockin(CD5+HA+)</text>
<text x="0" y="0" transform="translate(1483.50,2314.50) scale(0.963,1.0)" font-size="29.5" text-anchor="middle" fill="#3b3b3d" stroke="#3b3b3d" stroke-width="0.4">Novobiocin (uM)</text>
<circle cx="1951.40" cy="2053.30" r="5.6" fill="#5a5a5a" fill-opacity="0.9"/>
<text x="1985.20" y="2061.50" font-size="23.3" text-anchor="start" fill="#000000" stroke="#000000" stroke-width="0.4">No Inhibitor</text>
<circle cx="1949.40" cy="2091.70" r="5.6" fill="#b39ddb" fill-opacity="0.9"/>
<text x="1982.50" y="2099.90" font-size="23.3" text-anchor="start" fill="#000000" stroke="#000000" stroke-width="0.4">NVB</text>
<circle cx="1949.40" cy="2131.00" r="5.6" fill="#d6505c" fill-opacity="0.9"/>
<text x="1982.50" y="2138.90" font-size="23.3" text-anchor="start" fill="#000000" stroke="#000000" stroke-width="0.4">NVB + M</text>
<circle cx="1949.40" cy="2169.80" r="5.6" fill="#7fccd6" fill-opacity="0.9"/>
<text x="1982.50" y="2177.70" font-size="23.3" text-anchor="start" fill="#000000" stroke="#000000" stroke-width="0.4">NVB + MT</text>
<circle cx="1949.40" cy="2208.50" r="5.6" fill="#f9a978" fill-opacity="0.9"/>
<text x="1982.50" y="2216.40" font-size="23.3" text-anchor="start" fill="#000000" stroke="#000000" stroke-width="0.4">NVB + MTX</text>
</svg>
</body>
</html>
